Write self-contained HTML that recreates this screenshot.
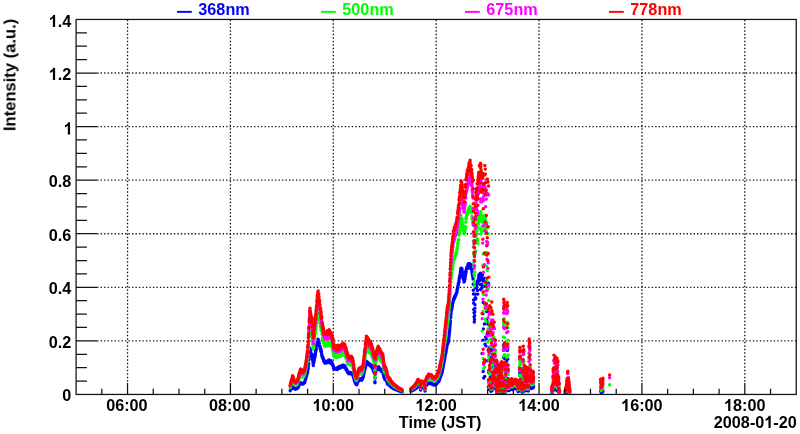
<!DOCTYPE html>
<html><head><meta charset="utf-8"><title>plot</title>
<style>
html,body{margin:0;padding:0;background:#fff;}
body{width:800px;height:434px;overflow:hidden;font-family:"Liberation Sans",sans-serif;}
svg{display:block}
</style></head><body>
<svg width="800" height="434" viewBox="0 0 800 434">
<rect width="800" height="434" fill="#fff"/>
<path d="M97.60 340.88H796.25M97.60 287.31H796.25M97.60 233.74H796.25M97.60 180.16H796.25M97.60 126.59H796.25M97.60 73.02H796.25" stroke="#111" stroke-width="1.3" stroke-dasharray="1.3 2.188" stroke-dashoffset="0.44" fill="none"/>
<path d="M127.54 382.95V19.45M230.42 382.95V19.45M333.30 382.95V19.45M436.17 382.95V19.45M539.05 382.95V19.45M641.93 382.95V19.45M744.81 382.95V19.45" stroke="#111" stroke-width="1.3" stroke-dasharray="1.3 2.2" stroke-dashoffset="2.2" fill="none"/>
<path d="M290.2 390.8h0M290.3 390.5h0M290.5 390.2h0M290.6 390.0h0M290.8 389.7h0M291.0 389.4h0M291.0 389.3h0M291.2 388.9h0M291.4 388.5h0M291.5 388.7h0M291.7 388.1h0M291.7 388.3h0M292.0 387.9h0M292.1 387.5h0M292.2 387.7h0M292.3 387.2h0M292.4 387.2h0M292.6 386.8h0M292.7 387.1h0M292.9 386.8h0M293.0 387.5h0M293.2 387.5h0M293.3 387.4h0M293.5 387.7h0M293.7 388.1h0M293.7 388.1h0M293.9 388.2h0M294.1 388.2h0M294.2 388.5h0M294.3 388.5h0M294.5 388.5h0M294.6 388.6h0M294.8 388.6h0M295.0 388.7h0M295.0 388.9h0M295.2 389.2h0M295.3 389.0h0M295.4 389.0h0M295.6 388.9h0M295.8 389.0h0M295.9 389.1h0M296.0 388.8h0M296.2 388.7h0M296.3 388.7h0M296.4 388.8h0M296.6 388.5h0M296.8 388.5h0M296.9 388.6h0M297.0 388.8h0M297.2 388.5h0M297.4 388.3h0M297.5 388.3h0M297.6 388.1h0M297.8 387.9h0M297.9 387.7h0M298.0 387.3h0M298.2 387.4h0M298.3 386.8h0M298.5 386.7h0M298.6 386.3h0M298.8 386.2h0M298.9 385.5h0M299.0 385.3h0M299.2 385.3h0M299.4 384.8h0M299.4 384.9h0M299.6 384.6h0M299.7 384.2h0M299.9 384.5h0M300.0 384.0h0M300.2 383.7h0M300.4 384.0h0M300.5 382.8h0M300.7 382.8h0M300.7 383.1h0M300.9 383.2h0M301.0 383.0h0M301.2 383.2h0M301.4 383.5h0M301.5 383.7h0M301.6 383.1h0M301.8 383.3h0M301.9 383.8h0M302.0 383.4h0M302.2 383.9h0M302.3 383.5h0M302.5 384.1h0M302.6 383.4h0M302.8 383.9h0M302.9 383.4h0M303.0 383.9h0M303.2 383.9h0M303.4 383.0h0M303.5 383.5h0M303.7 383.3h0M303.8 383.2h0M303.9 382.8h0M304.0 383.2h0M304.2 382.9h0M304.3 382.5h0M304.5 382.4h0M304.7 382.5h0M304.8 381.8h0M305.0 381.3h0M305.1 380.2h0M305.2 380.4h0M305.3 380.2h0M305.4 379.7h0M305.6 379.2h0M305.7 378.8h0M305.9 378.8h0M306.0 377.5h0M306.2 376.8h0M306.3 376.6h0M306.4 376.4h0M306.6 375.9h0M306.8 374.8h0M306.9 374.4h0M307.0 373.7h0M307.2 373.6h0M307.4 373.0h0M307.5 373.0h0M307.6 371.4h0M307.7 370.4h0M307.9 369.5h0M308.1 367.6h0M308.2 368.5h0M308.3 366.1h0M308.5 364.7h0M308.7 363.4h0M308.8 360.1h0M308.9 359.6h0M309.1 357.3h0M309.2 357.0h0M309.4 354.0h0M309.5 354.9h0M309.7 351.9h0M309.7 350.9h0M309.9 348.3h0M310.1 349.5h0M310.2 349.9h0M310.3 350.0h0M310.5 351.4h0M310.7 350.2h0M310.7 351.7h0M310.9 352.4h0M311.1 353.6h0M311.2 353.8h0M311.3 353.9h0M311.5 354.1h0M311.6 354.7h0M311.8 355.1h0M311.9 354.8h0M312.1 356.2h0M312.2 357.1h0M312.3 358.9h0M312.5 357.6h0M312.6 359.2h0M312.8 360.9h0M312.9 362.0h0M313.1 362.5h0M313.2 364.1h0M313.3 365.4h0M313.5 362.9h0M313.6 362.3h0M313.7 362.7h0M313.9 361.3h0M314.1 361.3h0M314.2 360.0h0M314.3 358.9h0M314.5 358.2h0M314.7 356.3h0M314.8 357.3h0M314.9 354.2h0M315.1 355.7h0M315.2 354.5h0M315.4 354.9h0M315.5 350.9h0M315.6 352.7h0M315.7 351.7h0M315.9 350.7h0M316.0 349.7h0M316.2 349.8h0M316.4 349.1h0M316.5 346.3h0M316.6 346.2h0M316.8 345.4h0M316.9 343.9h0M317.1 344.0h0M317.2 342.3h0M317.3 342.5h0M317.5 343.1h0M317.6 343.0h0M317.7 341.9h0M317.9 343.7h0M318.0 339.1h0M318.2 339.7h0M318.3 343.5h0M318.4 340.3h0M318.6 343.2h0M318.8 343.9h0M318.9 343.4h0M319.1 342.9h0M319.2 343.8h0M319.3 343.4h0M319.5 345.9h0M319.7 345.9h0M319.8 346.0h0M319.9 346.4h0M320.1 347.4h0M320.2 348.6h0M320.3 347.3h0M320.5 349.6h0M320.7 349.1h0M320.8 350.9h0M320.9 350.3h0M321.0 349.3h0M321.2 351.6h0M321.4 352.4h0M321.5 353.2h0M321.6 351.7h0M321.7 355.5h0M321.9 355.6h0M322.1 356.1h0M322.2 355.4h0M322.3 357.2h0M322.5 357.0h0M322.6 357.7h0M322.8 357.2h0M322.9 358.7h0M323.1 358.7h0M323.2 358.7h0M323.4 358.8h0M323.5 359.8h0M323.6 360.7h0M323.8 360.6h0M324.0 361.4h0M324.1 361.9h0M324.2 361.6h0M324.4 361.8h0M324.5 360.8h0M324.6 362.4h0M324.8 361.4h0M324.9 362.3h0M325.1 363.2h0M325.2 362.5h0M325.4 361.9h0M325.5 361.7h0M325.6 362.2h0M325.8 362.9h0M325.9 362.0h0M326.0 362.0h0M326.2 362.1h0M326.4 362.7h0M326.5 362.7h0M326.6 361.6h0M326.8 362.1h0M326.9 362.0h0M327.1 362.2h0M327.2 361.1h0M327.3 362.1h0M327.5 362.4h0M327.6 361.8h0M327.8 361.4h0M327.9 361.9h0M328.1 360.7h0M328.2 361.4h0M328.4 360.3h0M328.5 362.2h0M328.7 361.8h0M328.8 361.3h0M328.9 362.4h0M329.0 361.9h0M329.2 361.7h0M329.4 359.9h0M329.5 361.9h0M329.7 362.0h0M329.8 361.7h0M329.9 362.2h0M330.0 362.2h0M330.2 361.6h0M330.3 362.6h0M330.5 360.5h0M330.6 362.2h0M330.8 363.3h0M330.9 362.1h0M331.1 363.5h0M331.2 362.3h0M331.4 363.0h0M331.4 362.1h0M331.6 363.6h0M331.8 363.1h0M331.9 362.0h0M332.0 362.6h0M332.2 363.7h0M332.4 363.7h0M332.5 364.9h0M332.6 364.2h0M332.8 365.7h0M333.0 366.0h0M333.1 365.8h0M333.2 365.7h0M333.4 366.6h0M333.5 367.9h0M333.6 368.1h0M333.8 368.5h0M333.9 367.9h0M334.0 369.3h0M334.2 368.1h0M334.3 368.6h0M334.5 368.6h0M334.6 368.9h0M334.8 369.0h0M334.9 368.8h0M335.1 369.0h0M335.2 369.1h0M335.4 368.9h0M335.5 368.6h0M335.7 369.1h0M335.8 369.2h0M336.0 368.5h0M336.1 369.0h0M336.2 369.1h0M336.3 368.7h0M336.5 369.1h0M336.7 369.0h0M336.8 368.0h0M336.9 369.1h0M337.0 369.2h0M337.2 368.0h0M337.3 369.5h0M337.5 368.2h0M337.6 367.7h0M337.8 368.3h0M337.9 368.5h0M338.1 367.3h0M338.2 368.0h0M338.4 368.3h0M338.5 367.4h0M338.7 367.2h0M338.7 368.6h0M338.9 366.9h0M339.0 368.0h0M339.2 367.5h0M339.4 367.9h0M339.5 367.7h0M339.6 366.4h0M339.8 366.6h0M339.9 366.5h0M340.1 367.3h0M340.2 368.1h0M340.4 366.8h0M340.5 366.5h0M340.6 367.6h0M340.8 366.8h0M340.9 367.2h0M341.1 366.4h0M341.2 366.3h0M341.4 366.1h0M341.4 367.3h0M341.6 366.7h0M341.7 366.3h0M341.9 367.1h0M342.0 365.9h0M342.2 366.6h0M342.3 366.7h0M342.5 365.1h0M342.7 366.2h0M342.7 365.8h0M342.9 365.7h0M343.1 366.9h0M343.2 365.8h0M343.3 365.2h0M343.5 366.3h0M343.6 366.4h0M343.8 366.4h0M343.9 365.9h0M344.0 367.2h0M344.2 365.4h0M344.3 366.5h0M344.5 365.7h0M344.6 366.1h0M344.8 367.5h0M344.9 366.0h0M345.1 366.9h0M345.2 367.1h0M345.4 368.3h0M345.5 367.9h0M345.7 368.1h0M345.8 369.3h0M345.9 368.1h0M346.1 368.5h0M346.2 368.4h0M346.3 368.7h0M346.5 370.1h0M346.6 369.2h0M346.8 370.8h0M346.9 370.3h0M347.1 371.2h0M347.2 370.5h0M347.4 372.0h0M347.5 371.2h0M347.6 371.5h0M347.8 372.6h0M347.9 372.0h0M348.1 372.8h0M348.2 372.8h0M348.3 372.6h0M348.5 373.1h0M348.6 373.7h0M348.7 373.0h0M348.9 373.4h0M349.0 373.0h0M349.2 373.2h0M349.4 372.9h0M349.5 373.5h0M349.6 373.0h0M349.8 372.3h0M349.9 373.0h0M350.0 373.8h0M350.2 373.0h0M350.3 373.3h0M350.5 372.8h0M350.6 373.2h0M350.8 373.8h0M350.9 373.8h0M351.1 373.9h0M351.2 373.0h0M351.4 373.8h0M351.4 373.8h0M351.6 373.5h0M351.8 373.7h0M351.9 373.2h0M352.0 374.0h0M352.2 374.0h0M352.3 373.1h0M352.4 374.2h0M352.7 374.0h0M352.8 374.2h0M352.9 375.6h0M353.1 374.9h0M353.2 376.1h0M353.3 376.7h0M353.5 377.0h0M353.7 378.2h0M353.7 378.2h0M353.9 378.4h0M354.1 379.7h0M354.2 379.8h0M354.3 380.1h0M354.5 380.6h0M354.6 381.0h0M354.7 381.4h0M354.9 382.0h0M355.1 382.4h0M355.2 382.8h0M355.3 383.3h0M355.5 382.8h0M355.6 383.4h0M355.8 383.8h0M355.9 383.7h0M356.1 384.2h0M356.2 384.3h0M356.4 384.4h0M356.5 384.5h0M356.7 384.7h0M356.7 384.1h0M357.0 384.2h0M357.1 383.9h0M357.2 383.0h0M357.3 382.5h0M357.5 382.6h0M357.6 382.5h0M357.8 381.8h0M358.0 381.9h0M358.0 380.8h0M358.2 381.4h0M358.4 380.8h0M358.5 380.1h0M358.6 380.1h0M358.8 380.1h0M358.9 380.2h0M359.0 379.8h0M359.2 379.8h0M359.3 379.3h0M359.5 379.8h0M359.6 379.4h0M359.8 379.5h0M359.9 379.0h0M360.1 379.0h0M360.2 380.0h0M360.3 379.2h0M360.5 379.4h0M360.7 378.8h0M360.7 378.6h0M360.9 379.7h0M361.0 380.0h0M361.2 379.9h0M361.4 379.2h0M361.5 379.7h0M361.6 379.7h0M361.8 380.2h0M361.9 380.1h0M362.1 379.1h0M362.2 379.3h0M362.4 378.7h0M362.5 378.6h0M362.6 378.7h0M362.8 378.2h0M362.9 377.4h0M363.0 377.5h0M363.2 377.2h0M363.4 375.9h0M363.5 375.3h0M363.6 375.1h0M363.8 373.9h0M364.0 373.0h0M364.1 372.6h0M364.2 372.8h0M364.4 371.5h0M364.5 371.0h0M364.7 369.9h0M364.7 369.6h0M365.0 368.8h0M365.1 369.1h0M365.2 368.0h0M365.3 366.4h0M365.5 365.6h0M365.7 366.4h0M365.8 364.4h0M365.9 364.0h0M366.1 363.4h0M366.2 363.4h0M366.3 361.7h0M366.4 361.1h0M366.6 363.3h0M366.8 363.1h0M366.9 362.8h0M367.0 361.6h0M367.2 363.0h0M367.3 362.2h0M367.5 362.9h0M367.6 362.3h0M367.8 362.5h0M367.9 363.2h0M368.1 363.1h0M368.2 362.8h0M368.4 363.3h0M368.5 363.1h0M368.7 364.8h0M368.7 363.6h0M368.9 364.0h0M369.1 363.5h0M369.2 363.9h0M369.3 364.8h0M369.5 364.3h0M369.6 364.5h0M369.8 364.0h0M369.9 365.0h0M370.0 365.4h0M370.2 365.8h0M370.4 364.6h0M370.5 364.9h0M370.7 365.5h0M370.8 364.7h0M370.9 366.5h0M371.0 365.6h0M371.2 366.7h0M371.4 365.9h0M371.5 366.1h0M371.6 365.5h0M371.8 367.2h0M371.9 366.8h0M372.1 367.2h0M372.2 368.0h0M372.3 367.6h0M372.5 368.4h0M372.6 368.8h0M372.8 367.8h0M372.9 368.1h0M373.1 369.2h0M373.2 370.3h0M373.3 370.7h0M373.5 370.5h0M373.6 370.6h0M373.7 370.8h0M373.9 372.2h0M374.0 372.0h0M374.2 370.9h0M374.4 372.3h0M374.4 371.7h0M374.6 373.0h0M374.8 377.4h0M374.9 381.8h0M375.0 382.7h0M375.2 378.1h0M375.3 373.9h0M375.5 372.1h0M375.6 372.2h0M375.8 371.4h0M375.9 370.8h0M376.1 371.2h0M376.2 370.3h0M376.3 370.9h0M376.5 370.4h0M376.6 370.2h0M376.8 369.3h0M376.9 368.9h0M377.1 369.4h0M377.2 368.4h0M377.4 369.8h0M377.5 367.3h0M377.6 368.0h0M377.8 368.6h0M378.0 368.6h0M378.0 367.6h0M378.2 367.2h0M378.3 367.5h0M378.5 367.0h0M378.7 366.6h0M378.7 368.0h0M378.9 367.6h0M379.1 367.4h0M379.2 368.1h0M379.4 368.1h0M379.5 369.0h0M379.6 369.4h0M379.8 368.6h0M379.9 368.7h0M380.1 369.6h0M380.2 369.1h0M380.4 369.3h0M380.5 370.0h0M380.7 370.4h0M380.8 370.6h0M380.9 370.3h0M381.0 370.2h0M381.2 370.7h0M381.3 370.8h0M381.4 371.5h0M381.7 371.4h0M381.7 371.1h0M381.9 371.3h0M382.1 371.8h0M382.2 370.1h0M382.3 370.6h0M382.4 370.9h0M382.6 370.9h0M382.7 371.3h0M382.9 372.0h0M383.1 373.1h0M383.2 373.8h0M383.3 374.5h0M383.5 374.6h0M383.7 376.0h0M383.8 375.9h0M383.9 377.2h0M384.0 377.2h0M384.2 377.3h0M384.4 378.2h0M384.5 378.3h0M384.7 378.7h0M384.8 378.9h0M384.9 379.5h0M385.0 379.4h0M385.2 379.5h0M385.4 379.5h0M385.5 379.4h0M385.7 379.1h0M385.8 379.4h0M385.9 379.9h0M386.1 379.9h0M386.2 379.7h0M386.4 380.2h0M386.5 381.0h0M386.7 381.1h0M386.8 381.2h0M386.9 381.7h0M387.1 382.4h0M387.2 382.7h0M387.3 383.3h0M387.5 384.0h0M387.6 384.1h0M387.8 383.9h0M387.9 384.4h0M388.0 383.8h0M388.2 384.4h0M388.4 384.3h0M388.5 384.4h0M388.6 384.5h0M388.7 385.0h0M389.0 385.1h0M389.1 384.7h0M389.2 385.0h0M389.4 385.0h0M389.5 385.5h0M389.7 385.3h0M389.8 385.4h0M390.0 385.9h0M390.1 385.8h0M390.2 386.0h0M390.3 386.0h0M390.5 386.0h0M390.6 386.5h0M390.7 386.4h0M390.9 386.5h0M391.1 386.9h0M391.2 387.0h0M391.4 387.0h0M391.5 387.2h0M391.7 387.2h0M391.8 387.2h0M391.9 387.4h0M392.1 387.5h0M392.2 387.5h0M392.4 387.7h0M392.5 387.6h0M392.7 387.7h0M392.8 387.9h0M392.9 388.0h0M393.0 388.0h0M393.2 388.4h0M393.3 388.3h0M393.5 388.3h0M393.7 388.5h0M393.8 388.6h0M393.9 388.9h0M394.1 388.7h0M394.2 388.8h0M394.3 388.9h0M394.5 389.0h0M394.6 388.9h0M394.8 388.9h0M395.0 389.0h0M395.0 389.2h0M395.2 389.2h0M395.3 389.3h0M395.5 389.4h0M395.6 389.6h0M395.8 389.4h0M395.9 389.6h0M396.1 389.7h0M396.2 389.6h0M396.4 389.6h0M396.5 389.7h0M396.6 389.8h0M396.8 389.7h0M396.9 390.0h0M397.1 390.1h0M397.2 389.9h0M397.3 390.2h0M397.5 390.2h0M397.7 390.3h0M397.8 390.2h0M397.9 390.5h0M398.0 390.4h0M398.2 390.5h0M398.4 390.6h0M398.5 390.6h0M398.6 390.7h0M398.8 390.8h0M399.0 390.9h0M399.1 390.8h0M399.2 390.8h0M399.3 390.8h0M399.5 390.9h0M399.7 390.9h0M399.7 390.9h0M399.9 391.0h0M400.1 391.2h0M400.2 391.2h0M400.4 391.2h0M400.4 391.1h0M400.7 391.2h0M400.8 391.2h0M400.9 391.4h0M401.0 391.4h0M401.2 391.4h0M401.3 391.4h0M401.5 391.6h0M401.7 391.6h0M401.7 391.7h0M402.0 391.8h0M402.0 391.8h0M402.2 391.9h0M402.3 392.0h0M411.0 391.0h0M411.1 391.0h0M411.2 390.9h0M411.4 390.9h0M411.6 391.0h0M411.7 390.8h0M411.8 390.7h0M412.0 390.6h0M412.1 390.7h0M412.3 390.5h0M412.5 390.4h0M412.5 390.4h0M412.7 390.2h0M412.9 390.2h0M413.0 390.3h0M413.1 390.1h0M413.3 390.1h0M413.5 389.9h0M413.5 389.8h0M413.7 389.9h0M413.8 389.6h0M414.0 389.7h0M414.1 389.7h0M414.3 389.6h0M414.4 389.4h0M414.6 389.2h0M414.8 389.3h0M414.9 389.1h0M415.0 388.9h0M415.2 388.6h0M415.3 388.7h0M415.4 388.6h0M415.6 388.7h0M415.7 388.5h0M415.8 388.2h0M416.0 388.2h0M416.1 388.0h0M416.3 387.8h0M416.5 387.9h0M416.6 387.5h0M416.7 387.3h0M416.9 387.2h0M417.0 387.2h0M417.2 386.7h0M417.3 386.8h0M417.4 386.7h0M417.6 386.5h0M417.7 386.2h0M417.8 385.9h0M418.0 386.0h0M418.2 386.0h0M418.3 386.1h0M418.4 386.0h0M418.6 386.3h0M418.7 386.1h0M418.9 386.5h0M419.0 386.6h0M419.2 386.9h0M419.3 386.9h0M419.5 386.8h0M419.5 386.8h0M419.7 387.2h0M419.8 387.0h0M420.0 387.1h0M420.1 387.4h0M420.3 387.4h0M420.4 388.6h0M420.6 390.0h0M420.7 389.2h0M420.8 387.6h0M421.0 387.0h0M421.1 387.0h0M421.3 386.8h0M421.4 386.9h0M421.6 386.8h0M421.7 387.1h0M421.8 387.1h0M422.0 387.1h0M422.2 387.0h0M422.3 387.5h0M422.4 387.1h0M422.6 387.2h0M422.8 387.4h0M422.9 387.4h0M423.0 387.7h0M423.2 387.7h0M423.3 387.7h0M423.4 387.8h0M423.6 387.9h0M423.7 388.2h0M423.8 388.1h0M424.0 387.7h0M424.1 387.5h0M424.3 387.4h0M424.4 387.3h0M424.6 387.2h0M424.7 387.5h0M424.9 389.3h0M425.0 391.1h0M425.2 389.2h0M425.3 387.1h0M425.4 386.7h0M425.5 386.7h0M425.7 386.1h0M425.9 386.0h0M426.0 386.0h0M426.1 385.7h0M426.3 385.4h0M426.5 384.9h0M426.6 385.1h0M426.7 384.7h0M426.9 384.5h0M427.0 384.8h0M427.1 384.1h0M427.3 384.3h0M427.4 384.2h0M427.6 384.0h0M427.8 383.7h0M427.9 383.9h0M428.0 383.6h0M428.1 383.8h0M428.3 383.4h0M428.5 383.6h0M428.5 383.1h0M428.8 383.0h0M428.9 383.3h0M429.0 383.1h0M429.2 383.1h0M429.3 383.2h0M429.4 383.1h0M429.5 383.1h0M429.7 382.9h0M429.9 383.0h0M430.0 383.1h0M430.1 383.4h0M430.3 383.3h0M430.4 383.4h0M430.5 383.1h0M430.7 383.4h0M430.9 383.8h0M431.0 383.3h0M431.1 383.8h0M431.3 383.1h0M431.4 383.2h0M431.6 383.8h0M431.7 383.6h0M431.9 383.5h0M432.0 383.5h0M432.2 384.1h0M432.3 383.9h0M432.5 384.0h0M432.6 384.4h0M432.7 384.2h0M432.8 384.2h0M433.0 384.1h0M433.2 384.8h0M433.3 384.6h0M433.4 384.4h0M433.5 384.8h0M433.7 384.8h0M433.9 384.4h0M434.0 384.6h0M434.2 384.9h0M434.3 384.4h0M434.4 385.1h0M434.6 384.8h0M434.7 384.9h0M434.8 385.1h0M435.0 385.1h0M435.2 385.1h0M435.3 385.0h0M435.4 384.4h0M435.6 384.3h0M435.7 384.5h0M435.9 383.7h0M436.0 383.8h0M436.2 383.9h0M436.3 384.2h0M436.4 383.7h0M436.6 383.7h0M436.7 383.5h0M436.8 383.8h0M437.0 383.6h0M437.1 383.4h0M437.3 382.9h0M437.4 382.6h0M437.6 382.7h0M437.7 382.6h0M437.8 382.4h0M438.0 381.6h0M438.2 381.8h0M438.3 381.6h0M438.4 381.4h0M438.6 381.0h0M438.8 381.4h0M438.9 380.6h0M439.0 380.1h0M439.1 380.2h0M439.2 379.4h0M439.5 380.0h0M439.6 378.4h0M439.7 378.0h0M439.9 378.1h0M440.0 377.8h0M440.1 377.9h0M440.3 377.3h0M440.4 376.3h0M440.5 376.3h0M440.7 375.6h0M440.8 374.6h0M441.0 375.8h0M441.2 374.4h0M441.3 373.8h0M441.5 374.0h0M441.6 373.2h0M441.7 373.3h0M441.8 372.8h0M442.0 372.8h0M442.2 371.9h0M442.3 371.3h0M442.4 370.5h0M442.6 369.5h0M442.7 369.1h0M442.8 368.3h0M443.0 367.4h0M443.1 366.2h0M443.3 366.3h0M443.5 365.2h0M443.5 364.4h0M443.7 363.7h0M443.9 362.8h0M444.0 361.9h0M444.1 361.9h0M444.3 360.7h0M444.4 360.1h0M444.6 358.9h0M444.7 358.2h0M444.9 358.0h0M445.0 357.2h0M445.1 355.7h0M445.3 355.3h0M445.4 354.7h0M445.6 354.0h0M445.7 352.4h0M445.9 352.4h0M446.0 351.2h0M446.1 351.2h0M446.2 350.3h0M446.4 349.0h0M446.6 348.3h0M446.7 347.9h0M446.8 347.0h0M447.0 346.0h0M447.1 344.7h0M447.2 345.0h0M447.4 344.5h0M447.6 343.7h0M447.7 343.9h0M447.9 343.1h0M448.0 342.9h0M448.2 342.5h0M448.3 342.3h0M448.5 341.7h0M448.5 341.1h0M448.7 339.4h0M448.8 338.2h0M449.0 336.6h0M449.1 335.6h0M449.2 334.2h0M449.4 332.4h0M449.6 331.2h0M449.7 329.5h0M449.9 327.7h0M450.0 325.7h0M450.2 324.0h0M450.3 322.7h0M450.4 320.9h0M450.6 317.8h0M450.8 316.8h0M450.9 314.6h0M451.0 313.6h0M451.1 312.4h0M451.2 311.2h0M451.4 310.5h0M451.5 309.8h0M451.8 308.9h0M451.8 308.5h0M452.0 307.4h0M452.1 306.8h0M452.3 306.6h0M452.4 305.4h0M452.5 304.1h0M452.7 303.6h0M452.8 302.7h0M453.0 302.6h0M453.1 301.4h0M453.3 300.8h0M453.4 299.7h0M453.6 298.9h0M453.7 298.4h0M453.9 298.9h0M454.0 299.5h0M454.2 297.9h0M454.3 298.0h0M454.5 297.6h0M454.5 296.8h0M454.7 297.9h0M454.8 295.9h0M455.0 296.5h0M455.1 296.4h0M455.3 296.3h0M455.4 296.3h0M455.6 294.9h0M455.7 294.6h0M455.9 294.9h0M456.0 293.9h0M456.1 293.7h0M456.3 293.5h0M456.4 293.1h0M456.5 293.0h0M456.7 293.0h0M456.9 292.1h0M457.0 290.8h0M457.1 289.5h0M457.3 289.6h0M457.4 289.0h0M457.6 288.6h0M457.7 287.0h0M457.9 286.1h0M458.0 286.8h0M458.1 285.2h0M458.3 283.6h0M458.4 284.4h0M458.5 283.5h0M458.7 282.5h0M458.9 282.4h0M459.0 280.8h0M459.1 281.7h0M459.2 278.7h0M459.5 278.2h0M459.5 277.1h0M459.7 275.6h0M459.9 276.8h0M460.0 276.0h0M460.1 274.8h0M460.3 272.3h0M460.4 271.9h0M460.6 270.2h0M460.8 270.1h0M460.8 268.9h0M461.0 268.2h0M461.1 269.0h0M461.2 271.0h0M461.5 268.6h0M461.5 270.4h0M461.7 271.7h0M461.8 268.5h0M462.0 269.7h0M462.2 271.5h0M462.3 271.4h0M462.4 274.0h0M462.6 273.1h0M462.7 274.4h0M462.8 275.8h0M463.0 275.2h0M463.1 278.2h0M463.2 277.4h0M463.4 279.4h0M463.6 277.3h0M463.7 278.7h0M463.8 280.0h0M464.0 282.0h0M464.2 278.8h0M464.3 281.2h0M464.4 278.3h0M464.6 281.1h0M464.7 279.2h0M464.9 279.2h0M465.0 278.8h0M465.2 275.8h0M465.3 275.4h0M465.4 276.1h0M465.5 271.9h0M465.7 274.2h0M465.9 270.7h0M466.0 270.7h0M466.2 271.9h0M466.3 269.6h0M466.5 268.4h0M466.5 269.3h0M466.7 268.9h0M466.8 267.5h0M467.0 267.3h0M467.1 268.6h0M467.3 267.7h0M467.4 267.9h0M467.5 268.4h0M467.7 266.0h0M467.8 267.2h0M468.0 266.2h0M468.1 264.4h0M468.3 263.8h0M468.5 267.9h0M468.6 265.9h0M468.7 264.3h0M468.8 266.3h0M469.0 264.1h0M469.1 265.2h0M469.3 265.5h0M469.4 265.7h0M469.6 264.1h0M469.7 264.7h0M469.9 263.8h0M470.0 264.7h0M470.1 265.0h0M470.2 264.1h0M470.4 265.1h0M470.6 264.4h0M470.7 264.7h0M470.8 266.3h0M471.0 264.8h0M471.1 265.7h0M471.3 269.3h0M471.5 269.3h0M471.5 268.5h0M471.7 268.7h0M471.8 270.2h0M472.0 272.9h0M472.1 271.4h0M472.3 272.9h0M472.4 275.4h0M472.5 275.8h0M472.7 275.5h0M472.9 277.0h0M473.0 279.1h0M473.2 284.3h0M473.3 290.3h0M473.5 293.9h0M473.6 299.9h0M473.7 303.3h0M473.8 309.5h0M474.0 312.6h0M474.1 317.0h0M474.3 321.9h0M474.5 319.4h0M474.6 315.5h0M474.8 311.7h0M474.9 308.2h0M475.0 304.6h0M475.2 299.2h0M475.3 297.7h0M475.5 294.2h0M475.5 287.8h0M475.7 286.9h0M475.8 298.4h0M476.0 285.9h0M476.1 287.8h0M476.3 287.6h0M476.4 288.0h0M476.5 286.5h0M476.7 285.9h0M476.9 283.9h0M477.0 284.0h0M477.1 281.4h0M477.3 290.1h0M477.4 290.4h0M477.6 282.6h0M477.7 282.8h0M477.8 294.1h0M478.0 280.8h0M478.1 281.2h0M478.3 278.4h0M478.4 281.4h0M478.6 279.2h0M478.7 275.7h0M478.8 280.5h0M479.0 280.5h0M479.2 277.0h0M479.2 280.5h0M479.4 274.1h0M479.6 276.7h0M479.7 280.0h0M479.8 279.2h0M480.0 280.5h0M480.1 275.3h0M480.3 284.6h0M480.4 273.1h0M480.5 289.5h0M480.7 276.8h0M480.9 276.0h0M481.0 276.1h0M481.1 277.7h0M481.3 278.3h0M481.5 279.5h0M481.6 279.5h0M481.7 288.0h0M481.9 288.2h0M482.0 284.2h0M482.1 353.4h0M482.3 284.5h0M482.5 285.9h0M482.5 274.9h0M482.7 278.4h0M482.9 313.7h0M483.0 340.1h0M483.2 371.5h0M483.2 302.5h0M483.4 328.9h0M483.6 281.3h0M483.7 377.9h0M483.9 285.6h0M484.0 281.1h0M484.1 278.5h0M484.2 286.0h0M484.4 323.9h0M484.6 278.1h0M484.7 376.5h0M484.9 281.5h0M485.0 344.2h0M485.1 304.7h0M485.3 281.9h0M485.5 284.8h0M485.6 285.6h0M485.7 336.9h0M485.8 283.1h0M486.0 346.1h0M486.2 338.9h0M486.3 284.5h0M486.4 304.0h0M486.6 311.6h0M486.7 319.8h0M486.9 283.6h0M487.0 321.1h0M487.2 333.8h0M487.3 311.5h0M487.4 284.2h0M487.5 360.7h0M487.7 310.3h0M487.8 324.1h0M488.0 288.1h0M488.1 350.1h0M488.3 323.7h0M488.4 387.0h0M488.5 283.2h0M488.8 370.4h0M488.9 332.4h0M488.9 372.8h0M489.0 372.2h0M489.2 351.5h0M489.3 389.6h0M489.5 380.1h0M489.7 347.3h0M489.7 381.1h0M489.9 381.2h0M490.1 358.1h0M490.2 386.4h0M490.3 376.9h0M490.4 377.4h0M490.6 362.2h0M490.7 389.2h0M490.9 391.2h0M491.0 348.5h0M491.2 350.8h0M491.4 357.2h0M491.5 367.3h0M491.6 386.0h0M491.8 348.4h0M491.9 349.7h0M492.0 390.8h0M492.2 375.9h0M492.3 363.3h0M492.5 384.7h0M492.6 372.6h0M492.7 388.4h0M492.9 355.0h0M493.1 359.9h0M493.2 356.1h0M493.4 384.0h0M493.5 382.4h0M493.6 386.9h0M493.7 356.7h0M493.9 370.8h0M494.1 377.2h0M494.2 383.4h0M494.4 356.8h0M494.5 385.6h0M494.6 373.2h0M494.7 369.1h0M494.9 366.7h0M495.0 366.5h0M495.2 373.7h0M495.4 386.5h0M495.4 365.5h0M495.6 377.2h0M495.8 380.4h0M495.9 386.4h0M496.0 389.4h0M496.2 382.8h0M496.3 388.1h0M496.5 377.0h0M496.6 387.8h0M496.7 392.7h0M496.9 377.2h0M497.0 390.3h0M497.2 382.7h0M497.3 389.8h0M497.5 380.8h0M497.5 389.4h0M497.7 392.4h0M497.8 378.7h0M498.0 391.0h0M498.1 390.7h0M498.2 385.0h0M498.4 392.5h0M498.5 389.8h0M498.7 382.2h0M498.8 386.5h0M498.9 383.1h0M499.1 387.3h0M499.2 379.2h0M499.3 381.2h0M499.5 389.6h0M499.7 381.1h0M499.8 388.6h0M499.9 386.1h0M500.1 380.5h0M500.2 382.1h0M500.4 384.4h0M500.5 389.2h0M500.6 380.5h0M500.8 377.4h0M500.9 392.2h0M501.1 378.6h0M501.2 390.0h0M501.4 383.6h0M501.5 381.7h0M501.6 380.9h0M501.8 377.1h0M502.0 384.4h0M502.1 390.2h0M502.2 385.6h0M502.4 389.9h0M502.5 388.2h0M502.6 378.7h0M502.8 378.2h0M502.9 392.7h0M503.1 389.0h0M503.3 379.6h0M503.4 369.1h0M503.5 357.2h0M503.6 350.3h0M503.8 344.8h0M503.9 348.6h0M504.1 344.3h0M504.2 347.6h0M504.4 346.7h0M504.5 358.4h0M504.6 367.5h0M504.8 379.0h0M504.9 378.2h0M505.0 387.5h0M505.2 392.3h0M505.4 381.5h0M505.5 389.3h0M505.6 381.9h0M505.8 384.4h0M505.9 390.3h0M506.1 381.4h0M506.3 390.7h0M506.4 390.3h0M506.5 378.4h0M506.7 369.2h0M506.8 360.9h0M506.9 350.0h0M507.1 348.1h0M507.2 350.4h0M507.3 347.6h0M507.5 348.7h0M507.6 349.9h0M507.8 359.1h0M507.9 369.0h0M508.0 378.8h0M508.3 381.4h0M508.3 387.4h0M508.5 390.4h0M508.6 387.1h0M508.8 390.2h0M509.0 390.6h0M509.0 389.0h0M509.1 389.7h0M509.3 388.5h0M509.4 388.5h0M509.6 389.1h0M509.7 389.5h0M509.8 387.5h0M510.0 389.7h0M510.1 387.2h0M510.3 387.4h0M510.4 389.0h0M510.6 387.1h0M510.7 388.5h0M510.8 387.9h0M511.0 387.0h0M511.2 388.4h0M511.3 388.8h0M511.5 388.7h0M511.6 386.8h0M511.7 386.6h0M511.9 388.1h0M512.0 388.0h0M512.1 389.6h0M512.3 389.4h0M512.4 388.0h0M512.5 389.2h0M512.7 388.6h0M512.8 388.6h0M513.0 389.1h0M513.2 389.0h0M513.3 388.4h0M513.4 388.0h0M513.6 388.1h0M513.8 388.0h0M513.8 387.4h0M514.0 388.2h0M514.1 388.4h0M514.3 387.6h0M514.4 387.9h0M514.6 387.2h0M514.7 387.9h0M514.9 388.2h0M515.0 388.3h0M515.1 387.0h0M515.3 387.7h0M515.4 387.8h0M515.6 387.1h0M515.7 388.8h0M515.8 388.1h0M516.0 387.0h0M516.2 388.5h0M516.3 387.1h0M516.5 387.2h0M516.6 388.9h0M516.7 389.0h0M516.8 388.2h0M517.0 387.6h0M517.2 388.9h0M517.3 388.4h0M517.4 387.7h0M517.6 389.2h0M517.7 388.1h0M517.8 388.2h0M518.0 389.3h0M518.0 390.5h0M518.1 391.4h0M518.2 391.4h0M518.4 388.9h0M518.6 390.4h0M518.8 389.3h0M518.8 388.9h0M519.0 390.7h0M519.2 388.9h0M519.2 387.6h0M519.4 381.8h0M519.5 375.8h0M519.7 371.5h0M519.8 373.4h0M520.0 372.3h0M520.2 372.0h0M520.3 373.5h0M520.4 375.3h0M520.5 382.0h0M520.8 386.9h0M520.9 388.7h0M521.0 388.7h0M521.1 390.5h0M521.3 389.4h0M521.4 389.7h0M521.5 391.3h0M521.7 389.0h0M521.9 391.8h0M522.0 389.8h0M522.1 388.9h0M522.2 391.3h0M522.5 391.2h0M522.6 390.9h0M522.6 392.3h0M522.7 383.1h0M522.9 383.4h0M523.1 377.1h0M523.1 373.0h0M523.3 371.4h0M523.4 371.7h0M523.6 373.2h0M523.7 372.2h0M523.9 372.6h0M524.1 379.8h0M524.2 385.3h0M524.3 389.8h0M524.5 382.3h0M524.6 381.1h0M524.7 381.2h0M524.9 391.1h0M525.0 387.2h0M525.2 381.1h0M525.3 386.3h0M525.4 386.7h0M525.6 388.0h0M525.8 381.2h0M525.9 390.1h0M526.0 383.7h0M526.2 382.2h0M526.3 381.3h0M526.5 389.9h0M526.6 385.7h0M526.8 385.0h0M526.9 382.2h0M527.0 385.9h0M527.2 390.4h0M527.3 384.7h0M527.4 387.8h0M527.6 387.1h0M527.8 381.4h0M527.9 382.6h0M528.0 384.7h0M528.2 391.0h0M528.2 390.3h0M528.3 386.6h0M528.5 390.3h0M528.6 386.5h0M528.8 381.9h0M528.9 376.6h0M529.1 372.4h0M529.2 367.9h0M529.3 369.7h0M529.5 369.3h0M529.6 368.7h0M529.8 369.4h0M529.9 372.2h0M530.1 375.3h0M530.2 380.4h0M530.4 385.5h0M530.4 387.8h0M530.6 385.7h0M530.8 383.1h0M530.9 387.0h0M531.0 386.9h0M531.2 387.4h0M531.4 385.1h0M531.5 385.5h0M531.6 385.3h0M531.7 388.5h0M531.9 386.3h0M532.0 385.4h0M532.2 387.6h0M532.3 385.1h0M532.5 385.7h0M532.6 387.9h0M532.8 384.0h0M532.9 383.3h0M533.0 387.8h0M533.2 385.6h0M533.4 383.7h0M533.4 387.3h0M533.6 386.4h0M551.7 392.4h0M551.8 391.6h0M552.0 390.8h0M552.2 393.0h0M552.3 391.8h0M552.4 390.9h0M552.6 390.5h0M552.7 391.4h0M552.9 390.5h0M552.9 386.9h0M553.2 384.1h0M553.3 387.4h0M553.4 385.0h0M553.5 389.0h0M553.7 389.6h0M553.8 378.6h0M554.0 383.4h0M554.1 383.5h0M554.3 389.6h0M554.4 380.4h0M554.6 388.7h0M554.7 388.0h0M554.9 378.8h0M555.0 379.5h0M555.1 389.6h0M555.3 379.4h0M555.4 387.4h0M555.6 388.8h0M555.7 379.1h0M555.9 388.6h0M555.9 381.4h0M556.1 387.0h0M556.3 386.3h0M556.4 383.5h0M556.6 388.8h0M556.7 382.8h0M556.8 383.9h0M557.0 380.3h0M557.1 383.3h0M557.2 390.7h0M557.4 383.6h0M557.6 386.1h0M557.7 381.2h0M557.8 386.8h0M558.0 381.3h0M558.1 387.9h0M558.3 388.5h0M558.5 389.7h0M558.5 387.3h0M558.7 388.1h0M558.8 392.0h0M559.0 389.7h0M559.1 392.9h0M559.3 389.9h0M559.5 393.3h0M559.5 393.2h0M565.2 393.0h0M565.3 392.9h0M565.5 392.6h0M565.6 393.1h0M565.8 391.9h0M565.9 392.7h0M566.1 392.9h0M566.2 392.9h0M566.4 391.1h0M566.5 391.3h0M566.7 390.9h0M566.8 389.6h0M566.9 389.1h0M567.1 389.1h0M567.2 390.2h0M567.3 388.5h0M567.5 385.9h0M567.6 389.6h0M567.8 390.3h0M567.9 385.8h0M568.0 391.3h0M568.2 391.4h0M568.4 388.5h0M568.5 388.6h0M568.7 389.9h0M568.8 389.3h0M568.9 390.1h0M569.1 392.5h0M569.2 391.2h0M569.4 392.5h0M569.5 393.2h0M569.7 391.9h0M569.8 392.9h0M600.6 390.8h0M600.7 391.3h0M600.8 390.9h0M601.1 392.6h0M601.2 392.8h0M601.3 392.3h0M601.4 392.0h0M601.6 392.0h0M601.8 391.9h0M601.9 392.4h0M602.1 392.3h0M602.2 391.0h0M602.4 391.1h0M602.5 391.8h0M602.6 390.9h0M602.7 391.8h0M602.9 390.8h0" stroke="#0000ff" stroke-width="3.45" stroke-linecap="round" fill="none"/>
<path d="M290.2 387.7h0M290.4 387.1h0M290.5 386.8h0M290.6 386.1h0M290.8 385.7h0M290.9 385.2h0M291.1 385.0h0M291.2 384.3h0M291.3 384.1h0M291.5 384.0h0M291.6 383.0h0M291.8 383.2h0M291.9 382.5h0M292.0 382.2h0M292.2 382.4h0M292.3 381.6h0M292.5 381.6h0M292.6 380.7h0M292.8 380.8h0M292.9 380.7h0M293.1 381.6h0M293.2 382.1h0M293.4 381.9h0M293.5 381.9h0M293.6 382.6h0M293.8 382.6h0M293.9 383.2h0M294.1 383.2h0M294.2 383.8h0M294.4 383.7h0M294.5 383.7h0M294.7 384.1h0M294.7 384.6h0M294.9 384.7h0M295.1 384.9h0M295.2 384.9h0M295.4 384.6h0M295.5 384.8h0M295.6 385.0h0M295.8 384.8h0M295.9 384.9h0M296.0 384.7h0M296.2 384.4h0M296.4 384.2h0M296.4 384.7h0M296.6 384.3h0M296.7 384.3h0M296.9 384.4h0M297.1 384.5h0M297.2 383.6h0M297.3 383.6h0M297.5 383.7h0M297.6 383.6h0M297.7 382.9h0M297.9 382.2h0M298.0 382.4h0M298.2 381.8h0M298.4 381.1h0M298.5 380.5h0M298.6 380.3h0M298.7 380.4h0M298.9 379.0h0M299.0 378.9h0M299.2 378.4h0M299.4 378.2h0M299.4 377.5h0M299.6 377.5h0M299.8 376.5h0M299.9 377.2h0M300.0 376.9h0M300.2 376.1h0M300.3 375.6h0M300.4 375.3h0M300.6 374.9h0M300.8 375.3h0M300.9 375.1h0M301.1 375.5h0M301.2 375.3h0M301.3 375.4h0M301.5 376.3h0M301.6 376.0h0M301.8 376.0h0M301.9 376.3h0M302.0 376.1h0M302.2 376.5h0M302.3 377.1h0M302.5 376.9h0M302.6 376.2h0M302.8 376.8h0M302.9 376.6h0M303.0 376.6h0M303.2 376.5h0M303.4 376.5h0M303.5 376.8h0M303.7 375.9h0M303.7 376.0h0M304.0 375.2h0M304.1 376.1h0M304.2 375.8h0M304.4 375.8h0M304.5 375.3h0M304.7 374.8h0M304.7 373.8h0M304.9 374.0h0M305.1 372.9h0M305.2 372.6h0M305.4 371.9h0M305.5 371.3h0M305.6 370.6h0M305.7 369.6h0M305.9 369.7h0M306.1 367.8h0M306.2 368.0h0M306.3 366.4h0M306.5 366.3h0M306.6 364.3h0M306.8 364.8h0M306.9 362.5h0M307.0 363.3h0M307.2 360.8h0M307.4 361.7h0M307.5 359.3h0M307.7 358.2h0M307.8 357.8h0M307.9 355.6h0M308.1 354.6h0M308.2 354.2h0M308.3 349.8h0M308.5 347.7h0M308.6 345.1h0M308.8 341.5h0M309.0 340.5h0M309.0 336.6h0M309.2 333.5h0M309.4 331.9h0M309.5 334.5h0M309.6 328.4h0M309.7 326.1h0M309.9 325.4h0M310.0 325.2h0M310.2 326.0h0M310.3 329.1h0M310.5 327.2h0M310.6 328.7h0M310.8 328.9h0M310.9 331.0h0M311.1 330.5h0M311.2 332.5h0M311.4 332.3h0M311.5 332.9h0M311.7 334.9h0M311.8 334.6h0M311.9 335.9h0M312.1 336.7h0M312.2 337.6h0M312.4 339.3h0M312.5 337.8h0M312.7 341.9h0M312.8 344.2h0M312.9 346.6h0M313.1 346.8h0M313.2 347.0h0M313.3 348.7h0M313.5 346.4h0M313.6 345.4h0M313.8 346.3h0M313.9 343.3h0M314.1 342.2h0M314.2 340.3h0M314.3 339.8h0M314.5 337.1h0M314.7 338.6h0M314.8 336.5h0M314.9 333.3h0M315.1 332.4h0M315.2 333.8h0M315.4 332.7h0M315.4 330.4h0M315.6 329.9h0M315.8 332.2h0M315.9 327.1h0M316.1 328.4h0M316.2 326.1h0M316.4 323.2h0M316.5 322.1h0M316.7 320.0h0M316.7 318.4h0M317.0 318.3h0M317.1 319.9h0M317.2 318.3h0M317.3 314.9h0M317.4 317.4h0M317.6 315.2h0M317.8 313.4h0M317.9 316.4h0M318.0 311.5h0M318.2 313.7h0M318.4 313.7h0M318.5 315.9h0M318.6 315.5h0M318.7 316.5h0M319.0 316.8h0M319.0 317.3h0M319.2 317.6h0M319.3 316.1h0M319.5 319.9h0M319.7 319.2h0M319.8 323.2h0M319.9 323.5h0M320.1 321.6h0M320.2 323.1h0M320.4 325.2h0M320.4 325.8h0M320.7 326.5h0M320.7 326.9h0M320.9 329.7h0M321.1 327.8h0M321.2 330.7h0M321.3 329.7h0M321.5 329.9h0M321.6 331.0h0M321.8 331.2h0M321.9 334.1h0M322.0 334.1h0M322.2 334.8h0M322.3 338.1h0M322.5 337.7h0M322.6 339.4h0M322.7 338.0h0M322.9 340.7h0M323.1 339.0h0M323.2 339.2h0M323.4 341.4h0M323.5 342.3h0M323.6 343.1h0M323.7 342.1h0M323.9 342.8h0M324.1 344.5h0M324.2 343.0h0M324.3 345.4h0M324.5 341.9h0M324.6 343.9h0M324.7 344.0h0M324.9 345.8h0M325.0 346.5h0M325.2 343.2h0M325.3 346.0h0M325.4 344.7h0M325.6 342.9h0M325.8 345.4h0M325.9 344.9h0M326.0 344.9h0M326.2 345.9h0M326.4 345.5h0M326.5 345.2h0M326.6 344.8h0M326.7 345.3h0M326.9 344.6h0M327.1 343.7h0M327.2 343.9h0M327.4 342.4h0M327.5 345.8h0M327.6 342.7h0M327.7 345.9h0M327.9 343.3h0M328.1 342.9h0M328.2 344.6h0M328.3 343.0h0M328.5 343.1h0M328.6 344.5h0M328.8 343.8h0M328.9 344.5h0M329.1 344.6h0M329.2 342.8h0M329.3 343.2h0M329.5 342.1h0M329.6 343.8h0M329.8 343.1h0M329.9 345.3h0M330.0 343.7h0M330.2 344.3h0M330.3 344.3h0M330.5 341.7h0M330.6 342.6h0M330.7 345.5h0M330.9 345.7h0M331.1 346.0h0M331.2 345.2h0M331.3 344.0h0M331.4 344.4h0M331.7 346.3h0M331.8 345.5h0M331.9 346.8h0M332.1 346.5h0M332.2 347.6h0M332.3 346.1h0M332.5 346.5h0M332.6 349.8h0M332.8 349.4h0M332.9 351.6h0M333.1 349.2h0M333.2 350.7h0M333.4 352.2h0M333.5 353.3h0M333.6 354.9h0M333.8 354.2h0M333.9 354.2h0M334.0 356.2h0M334.2 355.7h0M334.3 355.4h0M334.5 355.9h0M334.6 355.0h0M334.8 354.3h0M334.9 356.2h0M335.1 354.8h0M335.2 357.0h0M335.3 356.1h0M335.5 357.3h0M335.6 355.7h0M335.8 356.6h0M335.9 356.2h0M336.1 357.3h0M336.2 355.2h0M336.4 356.0h0M336.5 354.8h0M336.6 356.7h0M336.7 357.1h0M337.0 357.8h0M337.0 356.4h0M337.2 356.8h0M337.3 356.5h0M337.5 355.4h0M337.6 356.4h0M337.7 355.6h0M337.9 355.7h0M338.1 355.3h0M338.2 355.2h0M338.4 355.6h0M338.5 355.0h0M338.6 354.6h0M338.8 356.5h0M338.9 354.8h0M339.0 355.8h0M339.2 356.3h0M339.3 355.5h0M339.5 354.9h0M339.6 354.1h0M339.8 356.3h0M339.9 355.1h0M340.1 355.1h0M340.2 355.4h0M340.4 353.4h0M340.5 356.2h0M340.7 354.0h0M340.8 354.7h0M340.9 354.5h0M341.1 354.7h0M341.2 353.7h0M341.3 353.5h0M341.5 354.1h0M341.6 353.5h0M341.8 353.5h0M341.9 354.0h0M342.0 353.4h0M342.2 354.3h0M342.4 354.4h0M342.5 352.6h0M342.6 353.9h0M342.7 353.5h0M343.0 354.6h0M343.1 355.1h0M343.2 354.3h0M343.3 352.6h0M343.5 354.6h0M343.6 353.1h0M343.8 354.0h0M343.9 354.5h0M344.1 355.3h0M344.2 353.6h0M344.4 353.1h0M344.5 353.3h0M344.6 354.0h0M344.8 355.9h0M344.9 353.5h0M345.0 354.7h0M345.2 356.1h0M345.4 356.7h0M345.5 354.8h0M345.7 356.8h0M345.8 357.9h0M346.0 355.9h0M346.0 356.9h0M346.2 357.7h0M346.3 358.6h0M346.5 358.3h0M346.6 358.8h0M346.8 359.3h0M346.9 360.9h0M347.0 361.6h0M347.2 361.8h0M347.3 361.8h0M347.5 361.2h0M347.6 363.1h0M347.8 362.2h0M347.9 363.0h0M348.0 364.5h0M348.2 363.6h0M348.4 363.1h0M348.5 364.2h0M348.7 364.0h0M348.7 363.3h0M348.9 364.3h0M349.1 363.7h0M349.2 363.7h0M349.4 363.8h0M349.5 364.1h0M349.6 364.5h0M349.8 362.9h0M349.9 364.3h0M350.1 364.5h0M350.2 363.5h0M350.3 365.0h0M350.5 363.6h0M350.7 363.3h0M350.8 363.9h0M350.9 365.0h0M351.1 365.1h0M351.2 364.8h0M351.4 364.2h0M351.5 364.6h0M351.7 365.0h0M351.8 365.0h0M351.9 364.5h0M352.0 364.7h0M352.2 365.4h0M352.3 364.8h0M352.5 365.5h0M352.7 365.2h0M352.7 365.6h0M352.9 368.0h0M353.0 367.8h0M353.2 367.6h0M353.4 369.3h0M353.5 369.1h0M353.6 370.3h0M353.8 371.6h0M353.9 371.6h0M354.1 372.3h0M354.2 373.5h0M354.4 373.9h0M354.5 374.2h0M354.6 375.8h0M354.7 375.8h0M354.9 376.2h0M355.1 377.6h0M355.2 378.3h0M355.4 378.2h0M355.4 377.9h0M355.7 378.6h0M355.7 379.2h0M355.9 379.2h0M356.1 379.1h0M356.2 380.5h0M356.4 380.2h0M356.5 380.2h0M356.6 380.4h0M356.7 379.9h0M356.9 379.8h0M357.0 379.1h0M357.2 379.0h0M357.4 377.7h0M357.5 377.4h0M357.6 377.3h0M357.8 376.3h0M357.9 375.8h0M358.0 375.2h0M358.2 376.0h0M358.3 374.9h0M358.5 374.2h0M358.6 373.4h0M358.7 374.3h0M358.9 373.2h0M359.1 373.7h0M359.2 374.0h0M359.4 373.4h0M359.5 373.4h0M359.6 373.4h0M359.8 373.8h0M359.9 373.1h0M360.0 372.3h0M360.2 373.7h0M360.3 372.5h0M360.5 373.1h0M360.6 372.5h0M360.8 372.4h0M361.0 373.5h0M361.1 373.3h0M361.2 372.6h0M361.3 373.5h0M361.5 373.1h0M361.6 372.8h0M361.8 373.4h0M361.9 374.0h0M362.1 373.4h0M362.2 372.7h0M362.3 372.0h0M362.5 372.4h0M362.6 371.9h0M362.8 371.0h0M363.0 371.0h0M363.1 369.7h0M363.2 370.0h0M363.3 368.7h0M363.5 366.6h0M363.6 366.6h0M363.8 365.5h0M363.9 363.7h0M364.0 363.6h0M364.2 362.7h0M364.4 360.6h0M364.4 360.2h0M364.7 360.1h0M364.7 359.1h0M365.0 357.8h0M365.0 356.2h0M365.2 355.8h0M365.3 354.7h0M365.5 353.9h0M365.6 352.7h0M365.8 350.1h0M365.9 350.6h0M366.0 350.5h0M366.2 349.0h0M366.4 346.9h0M366.4 349.5h0M366.7 348.6h0M366.8 347.6h0M366.9 347.7h0M367.1 348.2h0M367.2 350.6h0M367.3 348.3h0M367.5 348.0h0M367.6 349.1h0M367.8 351.0h0M367.9 349.9h0M368.1 351.4h0M368.2 349.0h0M368.3 349.9h0M368.5 350.8h0M368.6 350.0h0M368.8 352.5h0M368.9 351.4h0M369.1 350.9h0M369.2 351.6h0M369.3 352.8h0M369.5 350.7h0M369.6 351.9h0M369.8 352.5h0M369.9 351.5h0M370.1 352.2h0M370.2 352.5h0M370.3 353.3h0M370.5 353.7h0M370.6 352.7h0M370.8 353.1h0M370.9 353.6h0M371.0 354.5h0M371.2 354.1h0M371.3 353.5h0M371.5 353.8h0M371.6 354.5h0M371.7 354.9h0M372.0 355.8h0M372.0 356.5h0M372.2 355.8h0M372.3 355.9h0M372.5 356.1h0M372.7 357.2h0M372.7 358.6h0M372.9 357.6h0M373.1 357.4h0M373.2 359.5h0M373.4 360.8h0M373.5 361.4h0M373.6 360.6h0M373.8 361.7h0M374.0 362.8h0M374.1 361.5h0M374.2 360.9h0M374.3 361.8h0M374.5 361.0h0M374.7 363.9h0M374.7 370.8h0M374.9 376.5h0M375.0 377.2h0M375.2 370.5h0M375.4 364.7h0M375.5 362.3h0M375.6 362.1h0M375.8 361.9h0M376.0 361.6h0M376.0 361.3h0M376.2 360.5h0M376.4 359.0h0M376.5 361.0h0M376.6 360.0h0M376.8 359.7h0M376.9 358.7h0M377.1 358.9h0M377.2 356.9h0M377.3 359.3h0M377.5 356.2h0M377.7 357.4h0M377.8 357.4h0M377.9 357.3h0M378.1 356.1h0M378.2 354.8h0M378.4 356.5h0M378.5 355.8h0M378.6 355.3h0M378.8 355.0h0M378.9 356.2h0M379.1 356.7h0M379.2 357.5h0M379.3 358.7h0M379.5 358.0h0M379.7 357.3h0M379.8 358.2h0M380.0 358.0h0M380.0 357.6h0M380.2 358.7h0M380.3 359.9h0M380.5 359.6h0M380.6 359.4h0M380.8 360.2h0M380.9 360.3h0M381.1 361.2h0M381.2 360.5h0M381.3 359.5h0M381.5 361.9h0M381.7 362.0h0M381.8 359.9h0M381.9 361.4h0M382.1 361.4h0M382.2 359.6h0M382.4 361.8h0M382.4 361.0h0M382.6 361.9h0M382.8 360.6h0M382.9 362.0h0M383.1 363.1h0M383.2 365.4h0M383.3 366.4h0M383.4 367.4h0M383.7 368.1h0M383.8 368.4h0M383.9 369.7h0M384.0 371.0h0M384.2 370.4h0M384.3 372.0h0M384.5 372.2h0M384.7 372.0h0M384.8 372.1h0M384.9 372.8h0M385.1 372.6h0M385.2 372.2h0M385.3 372.3h0M385.5 372.5h0M385.6 373.3h0M385.8 372.9h0M385.9 372.7h0M386.1 372.9h0M386.2 373.7h0M386.3 373.9h0M386.4 375.0h0M386.6 374.8h0M386.8 375.4h0M386.9 376.4h0M387.0 376.8h0M387.2 377.7h0M387.3 378.6h0M387.5 379.4h0M387.7 379.8h0M387.8 379.0h0M387.9 379.6h0M388.1 379.9h0M388.2 380.0h0M388.3 380.0h0M388.5 380.1h0M388.6 380.8h0M388.8 380.6h0M388.9 380.7h0M389.0 381.2h0M389.2 381.2h0M389.3 381.4h0M389.5 381.3h0M389.7 381.5h0M389.8 381.9h0M389.9 382.0h0M390.1 381.9h0M390.2 382.2h0M390.3 382.2h0M390.5 382.4h0M390.6 383.3h0M390.7 383.5h0M390.9 383.3h0M391.0 383.2h0M391.2 383.8h0M391.3 383.7h0M391.4 383.9h0M391.6 384.2h0M391.7 384.2h0M391.9 384.0h0M392.1 384.6h0M392.2 384.6h0M392.4 384.7h0M392.4 384.9h0M392.6 384.8h0M392.7 384.8h0M392.9 385.6h0M393.0 385.5h0M393.2 385.5h0M393.3 385.8h0M393.5 386.1h0M393.7 385.8h0M393.8 386.3h0M393.9 386.2h0M394.1 386.3h0M394.2 386.5h0M394.3 386.4h0M394.5 386.9h0M394.7 386.7h0M394.7 386.8h0M394.9 386.8h0M395.1 386.9h0M395.2 386.7h0M395.3 387.2h0M395.5 387.3h0M395.6 387.5h0M395.8 387.4h0M395.9 387.3h0M396.0 387.6h0M396.2 387.7h0M396.3 387.5h0M396.5 387.8h0M396.6 387.8h0M396.7 387.8h0M397.0 388.0h0M397.0 388.3h0M397.2 388.3h0M397.4 388.1h0M397.5 388.6h0M397.6 388.6h0M397.7 388.7h0M397.9 388.5h0M398.1 388.8h0M398.2 388.9h0M398.3 388.9h0M398.5 388.9h0M398.6 389.1h0M398.7 389.0h0M398.9 389.2h0M399.1 389.3h0M399.2 389.2h0M399.3 389.4h0M399.5 389.5h0M399.6 389.6h0M399.7 389.6h0M399.9 389.6h0M400.0 389.7h0M400.2 389.7h0M400.4 389.8h0M400.5 389.8h0M400.6 389.9h0M400.7 389.8h0M400.9 390.1h0M401.1 390.1h0M401.2 390.0h0M401.3 390.1h0M401.5 390.3h0M401.6 390.3h0M401.8 390.5h0M401.9 390.7h0M402.1 390.8h0M402.2 390.7h0M402.4 390.9h0M411.0 389.6h0M411.1 389.4h0M411.2 389.5h0M411.4 389.4h0M411.6 389.3h0M411.7 389.4h0M411.9 389.3h0M412.0 389.1h0M412.2 389.0h0M412.3 389.0h0M412.4 388.5h0M412.6 388.8h0M412.7 388.4h0M412.9 388.2h0M413.0 388.3h0M413.1 388.2h0M413.3 388.3h0M413.4 388.0h0M413.6 388.1h0M413.7 387.9h0M413.9 387.7h0M414.0 387.8h0M414.2 387.3h0M414.3 387.2h0M414.5 387.3h0M414.5 386.9h0M414.7 386.9h0M414.9 387.0h0M415.0 386.4h0M415.1 386.2h0M415.3 386.4h0M415.4 386.0h0M415.5 386.2h0M415.8 385.8h0M415.8 385.8h0M416.0 385.4h0M416.1 385.2h0M416.3 385.4h0M416.5 385.0h0M416.5 384.8h0M416.7 384.4h0M416.9 384.0h0M417.0 384.2h0M417.1 383.3h0M417.3 383.1h0M417.4 382.9h0M417.5 383.1h0M417.7 382.9h0M417.8 382.7h0M418.0 382.0h0M418.1 382.2h0M418.3 381.9h0M418.4 382.6h0M418.5 382.6h0M418.7 383.0h0M418.9 382.8h0M419.0 383.1h0M419.2 383.7h0M419.3 383.5h0M419.5 383.5h0M419.5 383.7h0M419.7 383.7h0M419.9 384.1h0M420.0 384.3h0M420.2 384.0h0M420.2 384.3h0M420.4 386.0h0M420.6 388.3h0M420.7 386.9h0M420.9 384.6h0M421.0 384.1h0M421.1 384.0h0M421.3 383.5h0M421.5 383.8h0M421.6 383.6h0M421.7 383.7h0M421.9 384.0h0M422.0 383.4h0M422.1 383.6h0M422.3 384.3h0M422.5 384.0h0M422.6 384.2h0M422.7 384.5h0M422.9 384.5h0M423.0 384.6h0M423.1 384.8h0M423.3 384.6h0M423.4 384.9h0M423.6 385.1h0M423.7 385.5h0M423.9 385.1h0M424.0 385.1h0M424.1 384.8h0M424.3 384.4h0M424.4 384.4h0M424.6 384.3h0M424.7 384.4h0M424.8 387.2h0M425.0 389.6h0M425.1 386.7h0M425.2 384.1h0M425.4 383.0h0M425.5 383.3h0M425.7 382.8h0M425.8 382.4h0M426.0 382.2h0M426.1 381.9h0M426.3 381.6h0M426.4 381.2h0M426.6 380.5h0M426.7 380.2h0M426.9 380.8h0M427.0 380.1h0M427.2 380.3h0M427.3 379.7h0M427.4 379.7h0M427.6 379.7h0M427.8 379.6h0M427.8 379.5h0M428.0 378.6h0M428.2 379.4h0M428.3 378.9h0M428.4 379.3h0M428.5 378.4h0M428.7 377.8h0M428.8 378.4h0M429.0 377.7h0M429.2 377.9h0M429.3 378.7h0M429.4 378.8h0M429.6 378.3h0M429.7 378.3h0M429.9 378.9h0M430.0 378.5h0M430.1 379.1h0M430.3 377.9h0M430.5 378.5h0M430.6 378.5h0M430.7 378.8h0M430.8 378.5h0M431.0 378.6h0M431.1 379.3h0M431.3 378.7h0M431.4 379.0h0M431.6 378.9h0M431.7 378.9h0M431.9 379.5h0M432.0 379.0h0M432.1 379.2h0M432.3 379.0h0M432.5 379.3h0M432.6 380.2h0M432.7 379.9h0M432.8 380.1h0M433.0 379.7h0M433.1 380.2h0M433.3 380.1h0M433.4 380.5h0M433.6 380.4h0M433.7 379.9h0M433.9 380.8h0M434.0 380.6h0M434.2 380.5h0M434.3 380.2h0M434.4 380.5h0M434.6 380.8h0M434.7 380.2h0M434.9 380.7h0M435.0 381.3h0M435.1 380.9h0M435.3 380.2h0M435.4 380.2h0M435.6 379.6h0M435.7 380.2h0M435.9 379.2h0M436.0 379.9h0M436.2 378.8h0M436.3 379.3h0M436.4 379.0h0M436.6 378.7h0M436.8 378.9h0M436.8 378.3h0M437.0 378.3h0M437.2 378.8h0M437.3 378.4h0M437.5 377.9h0M437.5 378.1h0M437.7 377.8h0M437.9 377.2h0M438.0 375.9h0M438.1 376.3h0M438.3 376.1h0M438.4 375.2h0M438.5 375.9h0M438.7 375.4h0M438.9 375.3h0M439.0 374.7h0M439.1 374.0h0M439.2 373.9h0M439.4 372.7h0M439.5 371.6h0M439.7 371.3h0M439.9 371.5h0M440.0 370.5h0M440.1 370.1h0M440.3 370.3h0M440.4 368.5h0M440.6 368.2h0M440.8 368.1h0M440.8 367.3h0M441.0 367.5h0M441.2 366.3h0M441.3 365.9h0M441.4 365.4h0M441.6 364.9h0M441.7 363.4h0M441.8 363.4h0M442.0 363.1h0M442.1 362.4h0M442.3 361.4h0M442.5 360.4h0M442.5 359.2h0M442.7 358.3h0M442.9 357.4h0M443.0 355.1h0M443.1 354.0h0M443.2 353.6h0M443.4 353.3h0M443.6 352.6h0M443.7 350.6h0M443.8 349.0h0M444.0 348.0h0M444.1 348.3h0M444.3 346.3h0M444.4 345.1h0M444.6 344.0h0M444.7 343.4h0M444.9 342.7h0M445.0 340.7h0M445.1 339.6h0M445.2 339.0h0M445.4 337.3h0M445.5 337.4h0M445.7 335.0h0M445.8 334.4h0M446.0 332.9h0M446.1 332.6h0M446.3 331.4h0M446.4 329.0h0M446.6 328.4h0M446.8 328.0h0M446.9 326.6h0M447.0 324.9h0M447.2 323.7h0M447.2 323.5h0M447.5 322.8h0M447.6 322.0h0M447.8 322.3h0M447.9 321.5h0M448.0 320.9h0M448.2 320.1h0M448.3 319.7h0M448.4 318.8h0M448.5 318.4h0M448.7 315.9h0M448.8 313.6h0M449.0 312.6h0M449.1 310.5h0M449.2 307.8h0M449.4 306.5h0M449.6 304.6h0M449.7 302.4h0M449.9 299.5h0M450.0 296.3h0M450.2 294.2h0M450.3 291.5h0M450.4 288.6h0M450.6 286.1h0M450.7 283.1h0M450.8 281.8h0M451.0 278.7h0M451.1 277.5h0M451.3 276.5h0M451.4 275.2h0M451.6 274.5h0M451.7 273.8h0M451.8 272.5h0M452.0 270.4h0M452.2 270.0h0M452.3 269.9h0M452.5 269.5h0M452.6 267.2h0M452.7 266.2h0M452.9 265.3h0M453.0 264.1h0M453.1 263.3h0M453.3 262.1h0M453.4 260.5h0M453.6 259.2h0M453.7 259.7h0M453.8 260.1h0M454.0 259.2h0M454.1 259.6h0M454.3 257.6h0M454.4 258.1h0M454.6 257.7h0M454.7 258.4h0M454.8 256.4h0M455.0 257.6h0M455.2 256.9h0M455.3 255.8h0M455.4 255.5h0M455.6 254.8h0M455.7 253.9h0M455.9 255.1h0M456.0 253.0h0M456.1 254.3h0M456.3 253.6h0M456.4 252.3h0M456.6 252.3h0M456.7 250.6h0M456.9 250.0h0M457.0 249.3h0M457.1 247.7h0M457.3 249.1h0M457.5 246.4h0M457.6 246.4h0M457.7 243.7h0M457.8 244.3h0M458.0 242.5h0M458.1 239.7h0M458.2 240.9h0M458.4 239.6h0M458.6 240.1h0M458.8 239.7h0M458.9 235.3h0M459.0 233.5h0M459.1 234.7h0M459.3 231.9h0M459.4 233.1h0M459.6 231.9h0M459.8 230.0h0M459.9 227.6h0M460.0 227.3h0M460.1 224.5h0M460.2 225.3h0M460.4 221.9h0M460.6 223.0h0M460.7 223.6h0M460.9 220.1h0M461.0 215.2h0M461.2 219.7h0M461.3 218.3h0M461.4 219.2h0M461.6 218.4h0M461.7 220.0h0M461.8 219.8h0M462.0 223.6h0M462.2 219.4h0M462.3 221.6h0M462.5 224.9h0M462.5 224.7h0M462.7 225.1h0M462.8 226.9h0M463.0 228.9h0M463.2 230.8h0M463.3 231.1h0M463.5 231.2h0M463.6 230.9h0M463.7 228.8h0M463.9 232.9h0M464.0 233.4h0M464.1 233.3h0M464.3 232.7h0M464.4 232.1h0M464.6 230.9h0M464.7 233.1h0M464.9 231.2h0M465.0 228.5h0M465.1 229.3h0M465.3 226.3h0M465.4 226.5h0M465.6 222.1h0M465.7 222.3h0M465.9 219.1h0M466.0 217.9h0M466.1 219.1h0M466.3 217.0h0M466.4 216.2h0M466.6 218.3h0M466.7 214.0h0M466.9 212.4h0M467.0 214.8h0M467.1 213.5h0M467.3 212.8h0M467.4 214.1h0M467.6 212.6h0M467.7 212.9h0M467.9 212.1h0M468.0 210.0h0M468.1 210.3h0M468.3 211.6h0M468.4 212.0h0M468.6 212.0h0M468.8 211.4h0M468.9 208.4h0M469.0 208.5h0M469.1 207.2h0M469.3 208.3h0M469.4 207.0h0M469.6 208.5h0M469.7 208.8h0M469.8 207.7h0M470.0 207.9h0M470.1 206.1h0M470.3 207.6h0M470.4 207.4h0M470.6 208.1h0M470.8 210.6h0M470.8 209.4h0M471.0 207.6h0M471.2 209.9h0M471.3 210.5h0M471.4 211.5h0M471.6 212.4h0M471.7 212.6h0M471.9 216.2h0M472.0 218.4h0M472.1 218.4h0M472.3 219.1h0M472.4 218.0h0M472.5 222.6h0M472.7 220.1h0M472.8 222.1h0M473.0 225.2h0M473.1 232.7h0M473.3 241.2h0M473.4 246.8h0M473.6 253.8h0M473.7 262.9h0M473.9 266.8h0M474.0 273.7h0M474.2 281.7h0M474.3 286.1h0M474.4 282.7h0M474.5 275.8h0M474.7 272.0h0M474.8 266.0h0M475.0 261.6h0M475.1 253.8h0M475.3 250.8h0M475.5 243.0h0M475.6 235.4h0M475.7 233.1h0M475.8 251.1h0M476.0 232.5h0M476.1 234.8h0M476.3 234.9h0M476.4 234.3h0M476.5 233.1h0M476.7 234.0h0M476.9 228.7h0M477.0 230.8h0M477.1 223.5h0M477.3 238.6h0M477.4 240.4h0M477.6 226.5h0M477.7 226.4h0M477.9 243.3h0M478.0 221.9h0M478.2 224.5h0M478.3 219.4h0M478.5 223.4h0M478.6 220.5h0M478.8 216.5h0M478.8 219.6h0M479.0 218.1h0M479.2 218.7h0M479.3 221.4h0M479.4 213.7h0M479.5 213.7h0M479.7 219.8h0M479.9 219.3h0M480.0 219.4h0M480.2 214.1h0M480.3 229.0h0M480.4 212.1h0M480.6 234.1h0M480.7 211.5h0M480.9 212.3h0M481.0 215.2h0M481.2 214.9h0M481.3 218.1h0M481.4 219.3h0M481.6 220.0h0M481.7 231.2h0M481.9 232.1h0M482.0 226.5h0M482.2 331.1h0M482.3 221.2h0M482.5 222.2h0M482.6 218.3h0M482.7 222.3h0M482.8 265.4h0M483.0 311.5h0M483.2 358.7h0M483.3 254.1h0M483.5 294.4h0M483.6 227.7h0M483.7 368.4h0M483.8 230.2h0M484.0 223.6h0M484.1 215.6h0M484.3 219.2h0M484.4 283.7h0M484.6 224.3h0M484.7 367.3h0M484.8 216.4h0M485.0 319.1h0M485.2 254.2h0M485.3 217.4h0M485.4 220.1h0M485.6 228.8h0M485.8 305.1h0M485.9 226.7h0M486.0 321.2h0M486.1 309.4h0M486.3 231.3h0M486.4 252.4h0M486.6 266.1h0M486.7 278.8h0M486.8 222.4h0M487.0 280.9h0M487.2 306.0h0M487.2 270.4h0M487.4 227.8h0M487.6 342.1h0M487.7 268.5h0M487.9 288.0h0M488.0 233.6h0M488.1 329.0h0M488.3 285.1h0M488.4 383.3h0M488.6 226.8h0M488.7 357.1h0M488.8 300.5h0M488.9 360.2h0M489.1 359.4h0M489.2 327.5h0M489.4 387.3h0M489.5 371.7h0M489.6 323.1h0M489.8 374.2h0M489.9 374.1h0M490.1 339.2h0M490.2 382.2h0M490.4 366.7h0M490.4 367.8h0M490.6 346.6h0M490.8 386.4h0M490.9 389.5h0M491.0 324.8h0M491.2 328.5h0M491.3 339.8h0M491.5 353.7h0M491.6 381.9h0M491.7 323.1h0M491.9 328.0h0M492.1 389.1h0M492.2 364.6h0M492.3 347.0h0M492.5 379.2h0M492.6 361.6h0M492.7 385.5h0M492.9 332.7h0M493.0 340.3h0M493.2 338.1h0M493.3 378.6h0M493.5 376.1h0M493.6 382.9h0M493.7 336.8h0M493.9 356.6h0M494.1 368.0h0M494.2 378.1h0M494.3 338.5h0M494.5 380.8h0M494.6 362.8h0M494.7 355.9h0M494.9 352.8h0M495.1 353.0h0M495.2 361.7h0M495.3 382.8h0M495.5 350.3h0M495.6 369.0h0M495.7 373.8h0M495.9 382.1h0M496.1 386.8h0M496.1 376.2h0M496.3 385.0h0M496.4 367.6h0M496.6 384.3h0M496.8 391.8h0M496.9 367.9h0M497.1 388.0h0M497.2 376.1h0M497.4 387.5h0M497.5 373.7h0M497.5 386.6h0M497.7 391.4h0M497.8 370.9h0M497.9 388.9h0M498.1 388.8h0M498.2 380.5h0M498.3 391.4h0M498.5 387.4h0M498.7 375.2h0M498.8 382.3h0M498.9 377.2h0M499.1 383.6h0M499.2 370.3h0M499.4 374.2h0M499.5 387.2h0M499.7 374.8h0M499.8 385.7h0M499.9 381.9h0M500.1 374.4h0M500.2 375.4h0M500.3 378.8h0M500.5 386.6h0M500.6 372.4h0M500.8 369.8h0M501.0 391.1h0M501.1 369.7h0M501.3 387.8h0M501.3 378.4h0M501.5 375.4h0M501.7 373.3h0M501.8 368.7h0M502.0 379.4h0M502.0 388.0h0M502.2 381.2h0M502.3 387.4h0M502.5 385.1h0M502.6 371.0h0M502.8 369.2h0M503.0 391.6h0M503.1 386.1h0M503.2 371.4h0M503.4 356.1h0M503.5 336.9h0M503.6 325.2h0M503.8 322.7h0M504.0 323.1h0M504.1 318.7h0M504.2 323.1h0M504.4 323.7h0M504.5 337.6h0M504.6 354.7h0M504.8 371.4h0M504.9 370.5h0M505.1 383.6h0M505.2 391.3h0M505.4 373.9h0M505.5 386.7h0M505.7 375.7h0M505.8 378.6h0M505.9 387.8h0M506.1 374.0h0M506.3 388.6h0M506.4 388.5h0M506.5 369.7h0M506.7 357.2h0M506.7 344.0h0M506.9 326.8h0M507.1 326.8h0M507.2 325.4h0M507.3 322.2h0M507.5 322.8h0M507.7 328.1h0M507.8 340.1h0M508.0 354.9h0M508.1 371.3h0M508.2 374.5h0M508.4 383.3h0M508.5 388.3h0M508.6 383.2h0M508.7 387.8h0M508.9 388.6h0M509.0 386.3h0M509.1 387.4h0M509.3 385.5h0M509.4 385.5h0M509.6 386.0h0M509.7 387.1h0M509.9 383.4h0M510.0 387.0h0M510.1 384.0h0M510.3 383.5h0M510.5 386.0h0M510.6 382.9h0M510.7 385.5h0M510.8 384.6h0M511.0 383.2h0M511.1 385.6h0M511.2 385.9h0M511.4 385.4h0M511.6 382.6h0M511.7 382.9h0M511.9 385.0h0M512.0 384.6h0M512.1 387.1h0M512.3 386.8h0M512.4 384.6h0M512.5 386.5h0M512.8 385.1h0M512.9 385.6h0M513.0 386.2h0M513.2 386.1h0M513.3 385.2h0M513.4 384.6h0M513.6 385.0h0M513.7 384.9h0M513.9 383.9h0M514.0 385.1h0M514.2 384.9h0M514.3 384.3h0M514.5 384.0h0M514.6 383.3h0M514.7 384.5h0M514.9 384.8h0M515.0 385.0h0M515.1 382.9h0M515.3 384.1h0M515.5 384.3h0M515.6 382.9h0M515.7 385.9h0M515.9 384.8h0M516.0 383.5h0M516.1 385.4h0M516.3 383.5h0M516.4 383.5h0M516.6 385.9h0M516.7 386.2h0M516.9 385.1h0M517.0 383.9h0M517.1 386.0h0M517.3 384.9h0M517.4 383.7h0M517.6 386.6h0M517.7 385.1h0M517.9 384.9h0M518.0 386.7h0M518.0 388.3h0M518.2 389.8h0M518.3 389.8h0M518.4 385.7h0M518.6 388.2h0M518.7 386.6h0M518.9 386.1h0M519.0 388.6h0M519.1 386.0h0M519.3 383.8h0M519.4 375.2h0M519.6 365.8h0M519.7 358.9h0M519.8 362.7h0M520.0 359.5h0M520.1 360.6h0M520.3 362.3h0M520.5 364.6h0M520.5 375.2h0M520.7 383.0h0M520.9 386.1h0M521.0 385.7h0M521.2 388.5h0M521.3 386.9h0M521.5 387.4h0M521.6 389.6h0M521.7 386.1h0M521.8 390.5h0M522.0 387.6h0M522.1 385.9h0M522.3 389.6h0M522.4 389.5h0M522.5 389.2h0M522.6 391.1h0M522.7 376.7h0M522.9 377.8h0M523.1 368.5h0M523.2 362.5h0M523.3 359.8h0M523.5 361.6h0M523.6 362.1h0M523.8 361.2h0M523.9 361.8h0M524.0 372.1h0M524.1 380.7h0M524.3 387.6h0M524.5 375.5h0M524.6 374.3h0M524.7 374.0h0M524.9 389.3h0M525.0 383.7h0M525.2 373.5h0M525.3 381.7h0M525.5 382.6h0M525.6 384.9h0M525.8 373.9h0M525.8 387.9h0M526.0 378.8h0M526.2 375.4h0M526.3 374.1h0M526.5 387.3h0M526.6 381.1h0M526.7 379.8h0M526.9 375.0h0M527.0 381.3h0M527.2 388.2h0M527.4 379.3h0M527.5 384.4h0M527.6 383.6h0M527.8 374.6h0M527.8 376.3h0M528.0 379.9h0M528.2 388.9h0M528.2 387.9h0M528.3 382.5h0M528.5 388.0h0M528.6 382.6h0M528.7 375.6h0M528.9 367.3h0M529.1 359.0h0M529.2 354.3h0M529.4 356.4h0M529.5 356.1h0M529.6 355.0h0M529.8 356.1h0M529.9 360.0h0M530.1 366.0h0M530.2 373.4h0M530.4 380.5h0M530.5 384.4h0M530.6 380.6h0M530.8 377.4h0M530.9 382.8h0M531.0 382.9h0M531.2 383.4h0M531.3 379.4h0M531.4 380.4h0M531.6 379.7h0M531.8 385.0h0M531.9 382.1h0M532.0 380.8h0M532.2 384.1h0M532.3 380.3h0M532.4 380.8h0M532.6 384.4h0M532.7 378.2h0M532.9 377.7h0M533.0 384.6h0M533.2 381.2h0M533.3 377.8h0M533.5 383.4h0M533.6 381.8h0M551.7 391.1h0M551.9 390.0h0M552.0 388.4h0M552.1 391.9h0M552.2 390.0h0M552.4 388.5h0M552.5 388.1h0M552.7 389.4h0M552.8 388.1h0M553.0 381.7h0M553.1 376.9h0M553.3 382.7h0M553.4 378.6h0M553.6 385.6h0M553.7 386.4h0M553.8 368.0h0M553.9 375.9h0M554.2 377.3h0M554.3 386.4h0M554.4 371.0h0M554.6 385.1h0M554.7 383.3h0M554.9 368.8h0M555.0 368.3h0M555.1 386.4h0M555.2 369.2h0M555.5 382.7h0M555.6 385.5h0M555.7 369.1h0M555.8 384.4h0M556.0 373.3h0M556.1 382.0h0M556.3 380.5h0M556.4 376.9h0M556.6 385.3h0M556.7 375.1h0M556.8 376.4h0M557.0 370.0h0M557.1 375.7h0M557.3 387.9h0M557.4 375.9h0M557.5 380.7h0M557.7 372.2h0M557.9 381.6h0M558.0 371.7h0M558.1 383.0h0M558.3 384.9h0M558.4 386.1h0M558.5 382.4h0M558.7 383.9h0M558.9 390.2h0M559.0 386.6h0M559.2 391.9h0M559.3 386.7h0M559.4 392.5h0M559.5 392.3h0M565.2 391.9h0M565.4 391.7h0M565.5 391.3h0M565.7 392.0h0M565.8 390.0h0M565.9 391.3h0M566.1 391.8h0M566.2 391.6h0M566.3 388.2h0M566.5 389.0h0M566.6 388.2h0M566.8 386.0h0M566.9 385.2h0M567.0 384.6h0M567.2 386.6h0M567.4 384.1h0M567.5 379.7h0M567.6 385.7h0M567.7 386.9h0M567.9 379.5h0M568.1 388.8h0M568.2 388.8h0M568.4 383.4h0M568.5 384.7h0M568.6 386.7h0M568.7 385.3h0M568.9 387.0h0M569.1 390.9h0M569.2 388.5h0M569.3 391.0h0M569.5 392.4h0M569.6 390.0h0M569.8 391.7h0M600.6 386.6h0M600.8 387.6h0M600.9 386.4h0M601.1 390.6h0M601.2 390.6h0M601.3 389.9h0M601.5 389.3h0M601.6 389.2h0M601.7 389.1h0M601.8 389.9h0M602.0 389.8h0M602.2 386.8h0M602.3 387.1h0M602.4 388.4h0M602.6 386.4h0M602.7 388.8h0M602.9 386.1h0M609.6 384.7h0" stroke="#00ff00" stroke-width="3.45" stroke-linecap="round" fill="none"/>
<path d="M290.2 386.0h0M290.3 385.6h0M290.5 384.9h0M290.6 384.1h0M290.8 383.8h0M290.9 382.9h0M291.1 382.8h0M291.2 382.1h0M291.3 381.4h0M291.5 381.4h0M291.6 380.7h0M291.7 380.3h0M291.9 379.8h0M292.1 379.6h0M292.2 379.5h0M292.3 378.5h0M292.5 378.5h0M292.7 377.5h0M292.8 377.7h0M292.9 378.2h0M293.1 378.9h0M293.2 378.9h0M293.4 378.9h0M293.5 379.6h0M293.7 379.9h0M293.8 380.3h0M293.9 380.5h0M294.1 380.8h0M294.2 380.9h0M294.3 381.7h0M294.5 381.6h0M294.7 381.7h0M294.7 382.2h0M294.9 382.2h0M295.0 382.6h0M295.2 382.9h0M295.3 382.4h0M295.5 382.4h0M295.6 382.7h0M295.8 382.5h0M295.9 382.9h0M296.0 382.7h0M296.2 382.6h0M296.4 382.3h0M296.5 382.1h0M296.6 382.2h0M296.8 381.9h0M296.9 382.5h0M297.1 382.2h0M297.2 381.5h0M297.3 381.6h0M297.4 381.8h0M297.6 381.3h0M297.7 380.4h0M297.9 380.2h0M298.0 379.4h0M298.2 379.6h0M298.3 379.3h0M298.4 378.0h0M298.7 378.1h0M298.8 377.5h0M298.9 375.9h0M299.0 376.1h0M299.2 375.4h0M299.4 375.5h0M299.5 374.6h0M299.6 373.9h0M299.7 373.5h0M299.9 372.9h0M300.0 372.2h0M300.2 372.2h0M300.3 372.3h0M300.5 371.7h0M300.7 371.6h0M300.7 371.0h0M300.9 371.8h0M301.0 371.1h0M301.2 372.1h0M301.4 372.4h0M301.5 372.6h0M301.6 371.7h0M301.8 372.2h0M301.9 372.9h0M302.1 373.4h0M302.2 373.8h0M302.3 372.6h0M302.5 373.5h0M302.6 373.6h0M302.8 373.9h0M302.9 372.7h0M303.1 372.7h0M303.2 373.7h0M303.3 372.9h0M303.5 372.9h0M303.6 373.1h0M303.8 371.5h0M303.9 372.6h0M304.0 372.1h0M304.2 371.9h0M304.3 372.0h0M304.5 371.0h0M304.7 371.3h0M304.8 370.5h0M305.0 369.3h0M305.1 368.6h0M305.2 368.0h0M305.3 366.8h0M305.5 367.1h0M305.6 366.0h0M305.8 365.8h0M305.9 364.1h0M306.1 363.3h0M306.2 361.8h0M306.4 362.1h0M306.5 359.8h0M306.6 358.6h0M306.8 359.9h0M306.9 356.7h0M307.1 357.5h0M307.2 356.4h0M307.3 355.4h0M307.5 354.4h0M307.6 351.3h0M307.8 351.6h0M307.9 350.2h0M308.1 345.7h0M308.2 345.4h0M308.4 343.9h0M308.5 337.5h0M308.7 336.7h0M308.7 334.2h0M308.9 330.7h0M309.0 327.6h0M309.2 326.8h0M309.3 323.9h0M309.5 323.5h0M309.6 318.5h0M309.7 315.1h0M309.9 312.7h0M310.1 311.9h0M310.2 316.9h0M310.3 315.2h0M310.5 316.8h0M310.6 315.3h0M310.7 315.7h0M310.9 317.8h0M311.0 321.8h0M311.2 321.2h0M311.4 323.6h0M311.5 322.6h0M311.6 324.1h0M311.8 327.0h0M312.0 325.5h0M312.1 326.2h0M312.2 327.6h0M312.3 330.7h0M312.4 330.9h0M312.6 333.0h0M312.8 335.3h0M312.9 338.0h0M313.0 337.5h0M313.2 341.4h0M313.4 343.4h0M313.5 338.4h0M313.6 339.6h0M313.8 338.4h0M314.0 336.6h0M314.1 335.1h0M314.2 330.8h0M314.3 329.6h0M314.5 328.7h0M314.6 326.4h0M314.8 326.6h0M314.9 323.7h0M315.1 324.9h0M315.2 322.8h0M315.3 323.5h0M315.5 319.2h0M315.6 320.2h0M315.8 319.4h0M315.9 316.3h0M316.1 318.6h0M316.2 314.7h0M316.3 313.8h0M316.5 309.7h0M316.6 307.2h0M316.8 306.8h0M316.9 308.1h0M317.1 305.9h0M317.2 302.7h0M317.3 304.6h0M317.5 300.7h0M317.6 304.5h0M317.8 299.8h0M317.9 305.0h0M318.1 301.3h0M318.2 302.4h0M318.3 301.5h0M318.5 299.2h0M318.6 301.9h0M318.7 300.4h0M318.9 300.7h0M319.1 305.8h0M319.2 302.0h0M319.4 304.4h0M319.5 305.0h0M319.7 309.0h0M319.7 308.5h0M319.9 313.1h0M320.0 313.4h0M320.2 309.5h0M320.3 313.7h0M320.5 314.3h0M320.6 311.7h0M320.7 317.1h0M320.9 317.1h0M321.0 315.8h0M321.2 318.1h0M321.4 317.9h0M321.5 320.0h0M321.6 321.5h0M321.8 321.7h0M321.9 324.8h0M322.1 327.5h0M322.2 327.0h0M322.4 326.5h0M322.5 329.3h0M322.6 327.7h0M322.8 332.2h0M322.9 329.3h0M323.1 331.8h0M323.2 331.0h0M323.4 331.7h0M323.5 334.4h0M323.6 334.4h0M323.8 336.1h0M323.9 334.2h0M324.1 335.9h0M324.2 336.6h0M324.4 335.2h0M324.5 335.9h0M324.7 337.2h0M324.8 337.7h0M325.0 337.5h0M325.1 339.1h0M325.2 335.7h0M325.3 338.6h0M325.5 334.9h0M325.6 335.2h0M325.7 338.9h0M325.9 336.6h0M326.0 337.4h0M326.2 339.2h0M326.4 338.8h0M326.5 336.7h0M326.7 338.3h0M326.8 335.4h0M326.9 337.2h0M327.0 335.8h0M327.2 335.3h0M327.3 335.3h0M327.5 336.5h0M327.7 337.4h0M327.8 338.5h0M327.9 334.3h0M328.1 335.6h0M328.2 337.6h0M328.3 337.2h0M328.5 337.0h0M328.7 336.5h0M328.7 335.0h0M328.9 336.2h0M329.0 334.7h0M329.2 334.9h0M329.3 336.0h0M329.5 336.8h0M329.6 335.6h0M329.8 335.2h0M329.9 337.8h0M330.1 335.9h0M330.2 336.9h0M330.3 338.3h0M330.5 335.2h0M330.6 336.1h0M330.8 337.6h0M330.9 335.9h0M331.0 337.9h0M331.2 337.9h0M331.3 336.3h0M331.5 338.9h0M331.7 338.6h0M331.8 337.2h0M331.9 339.7h0M332.1 337.4h0M332.2 340.3h0M332.3 341.0h0M332.5 340.9h0M332.7 342.9h0M332.7 343.5h0M332.9 343.4h0M333.1 345.4h0M333.2 343.0h0M333.3 346.5h0M333.5 347.9h0M333.6 349.5h0M333.8 348.3h0M333.9 348.1h0M334.0 349.2h0M334.2 348.0h0M334.4 347.9h0M334.4 350.4h0M334.6 349.6h0M334.7 350.1h0M334.9 350.6h0M335.1 350.2h0M335.2 350.6h0M335.3 350.4h0M335.5 350.3h0M335.7 350.4h0M335.8 350.2h0M335.9 351.5h0M336.1 352.1h0M336.2 350.8h0M336.4 351.4h0M336.4 351.5h0M336.6 349.6h0M336.8 349.6h0M337.0 351.7h0M337.1 350.7h0M337.2 349.6h0M337.3 350.8h0M337.5 349.2h0M337.7 351.5h0M337.7 350.4h0M337.9 349.4h0M338.1 350.5h0M338.2 350.2h0M338.3 349.8h0M338.5 350.0h0M338.7 350.0h0M338.8 350.5h0M338.9 348.2h0M339.0 351.0h0M339.2 349.4h0M339.3 351.4h0M339.5 350.2h0M339.7 349.8h0M339.8 349.5h0M339.9 348.5h0M340.0 351.1h0M340.2 349.4h0M340.3 347.7h0M340.5 350.6h0M340.6 348.1h0M340.8 349.2h0M340.9 348.5h0M341.1 347.9h0M341.2 348.5h0M341.4 348.8h0M341.5 349.3h0M341.6 347.1h0M341.7 347.7h0M341.9 348.3h0M342.1 347.1h0M342.2 349.6h0M342.3 346.9h0M342.5 349.0h0M342.6 347.2h0M342.7 347.1h0M342.9 348.4h0M343.0 348.1h0M343.2 348.4h0M343.3 346.9h0M343.5 347.4h0M343.6 349.1h0M343.8 348.1h0M343.9 346.8h0M344.1 347.7h0M344.2 347.7h0M344.3 347.6h0M344.5 348.2h0M344.7 348.0h0M344.8 348.4h0M344.9 348.9h0M345.0 349.8h0M345.2 350.4h0M345.3 350.2h0M345.5 350.9h0M345.7 352.1h0M345.8 353.1h0M345.9 351.0h0M346.1 351.6h0M346.2 353.0h0M346.4 351.8h0M346.5 354.2h0M346.7 354.6h0M346.7 355.3h0M346.9 356.1h0M347.0 356.2h0M347.2 356.4h0M347.4 356.6h0M347.4 356.0h0M347.7 357.9h0M347.8 357.6h0M347.9 358.5h0M348.0 360.3h0M348.2 358.6h0M348.4 358.8h0M348.5 361.0h0M348.6 359.3h0M348.7 359.5h0M348.9 358.8h0M349.0 359.8h0M349.2 359.3h0M349.4 360.3h0M349.5 360.4h0M349.6 359.5h0M349.8 358.8h0M349.9 360.5h0M350.1 359.2h0M350.2 359.4h0M350.4 361.1h0M350.4 358.1h0M350.6 359.5h0M350.7 359.9h0M350.9 360.0h0M351.1 360.1h0M351.2 359.5h0M351.3 359.9h0M351.5 360.3h0M351.7 360.5h0M351.8 359.1h0M351.9 359.7h0M352.1 360.1h0M352.2 360.3h0M352.3 359.7h0M352.5 360.2h0M352.7 360.5h0M352.8 361.2h0M352.9 362.4h0M353.0 363.6h0M353.2 363.6h0M353.3 366.3h0M353.5 366.4h0M353.6 367.7h0M353.7 368.0h0M353.9 369.2h0M354.1 370.1h0M354.2 371.0h0M354.3 371.2h0M354.5 371.8h0M354.7 373.3h0M354.8 373.6h0M354.9 374.3h0M355.0 374.2h0M355.2 375.5h0M355.3 375.7h0M355.5 375.4h0M355.7 376.1h0M355.8 376.3h0M355.9 376.9h0M356.0 377.0h0M356.2 378.4h0M356.4 378.5h0M356.5 378.8h0M356.6 378.3h0M356.8 377.9h0M356.9 377.3h0M357.1 376.4h0M357.2 376.7h0M357.4 374.9h0M357.5 374.8h0M357.6 374.7h0M357.8 374.5h0M358.0 373.5h0M358.1 372.5h0M358.2 372.9h0M358.3 372.0h0M358.5 371.5h0M358.7 370.3h0M358.7 371.8h0M359.0 371.3h0M359.0 370.9h0M359.2 370.4h0M359.4 370.0h0M359.5 369.4h0M359.6 370.5h0M359.8 370.4h0M359.9 370.1h0M360.1 369.7h0M360.2 369.5h0M360.3 369.2h0M360.5 369.6h0M360.6 369.6h0M360.7 369.4h0M360.9 370.4h0M361.0 370.7h0M361.2 370.5h0M361.4 369.8h0M361.5 370.1h0M361.6 370.5h0M361.8 369.8h0M361.9 371.3h0M362.1 369.5h0M362.2 369.8h0M362.4 368.6h0M362.5 368.7h0M362.6 367.9h0M362.8 366.7h0M362.9 367.1h0M363.0 367.2h0M363.2 365.7h0M363.4 364.2h0M363.5 363.5h0M363.7 362.0h0M363.8 362.0h0M363.9 359.3h0M364.1 358.8h0M364.2 359.2h0M364.4 355.7h0M364.5 356.0h0M364.6 355.3h0M364.8 354.0h0M364.9 352.5h0M365.0 352.2h0M365.2 349.4h0M365.4 347.9h0M365.5 348.7h0M365.6 348.0h0M365.8 344.9h0M365.9 342.6h0M366.1 343.9h0M366.2 341.6h0M366.3 341.1h0M366.5 343.0h0M366.7 342.9h0M366.7 343.4h0M366.9 341.6h0M367.1 340.0h0M367.2 341.8h0M367.4 340.8h0M367.5 341.6h0M367.6 341.6h0M367.8 343.3h0M368.0 343.3h0M368.0 343.2h0M368.2 343.7h0M368.3 342.5h0M368.5 343.7h0M368.6 344.8h0M368.7 346.4h0M368.9 344.7h0M369.0 344.7h0M369.2 343.9h0M369.3 345.7h0M369.5 344.0h0M369.6 346.0h0M369.8 345.6h0M369.9 345.2h0M370.1 346.4h0M370.2 346.6h0M370.4 346.8h0M370.5 347.5h0M370.6 346.4h0M370.8 345.9h0M370.9 348.8h0M371.1 348.2h0M371.2 347.1h0M371.3 349.0h0M371.5 348.5h0M371.7 348.8h0M371.8 348.0h0M371.9 350.4h0M372.0 350.0h0M372.2 349.1h0M372.4 349.9h0M372.4 349.7h0M372.6 352.4h0M372.8 351.5h0M372.9 353.2h0M373.1 352.4h0M373.2 354.6h0M373.3 356.4h0M373.5 355.9h0M373.6 356.3h0M373.8 355.9h0M373.9 357.1h0M374.0 357.4h0M374.2 357.0h0M374.4 357.0h0M374.5 357.3h0M374.6 359.6h0M374.8 366.3h0M374.9 373.5h0M375.0 374.6h0M375.2 367.8h0M375.3 359.9h0M375.5 358.3h0M375.6 357.7h0M375.8 357.5h0M375.9 356.2h0M376.0 355.0h0M376.2 354.6h0M376.3 354.5h0M376.5 356.4h0M376.6 355.8h0M376.8 353.2h0M376.9 353.5h0M377.0 352.9h0M377.2 351.3h0M377.3 353.7h0M377.5 350.3h0M377.6 353.2h0M377.7 350.5h0M377.9 351.5h0M378.0 349.7h0M378.2 349.2h0M378.3 351.4h0M378.5 351.5h0M378.6 348.2h0M378.7 351.1h0M379.0 351.9h0M379.1 350.9h0M379.2 350.5h0M379.3 353.3h0M379.4 351.8h0M379.6 353.3h0M379.8 351.8h0M379.9 352.6h0M380.1 353.5h0M380.2 353.9h0M380.4 354.1h0M380.4 353.3h0M380.6 354.2h0M380.8 355.6h0M380.9 355.8h0M381.1 355.6h0M381.2 355.8h0M381.3 355.2h0M381.4 356.2h0M381.7 357.1h0M381.7 354.8h0M381.9 355.8h0M382.0 356.8h0M382.2 354.8h0M382.3 356.8h0M382.5 356.5h0M382.7 356.6h0M382.8 356.1h0M382.9 357.4h0M383.0 358.8h0M383.2 361.0h0M383.3 361.6h0M383.5 363.7h0M383.6 363.2h0M383.8 365.3h0M384.0 366.4h0M384.1 366.6h0M384.2 367.1h0M384.3 368.1h0M384.4 368.9h0M384.6 368.2h0M384.8 368.6h0M385.0 369.2h0M385.1 369.7h0M385.2 370.0h0M385.4 368.6h0M385.5 369.9h0M385.7 369.4h0M385.8 370.8h0M385.9 370.2h0M386.0 369.7h0M386.2 370.2h0M386.3 370.2h0M386.5 371.8h0M386.7 373.0h0M386.8 373.3h0M386.9 374.2h0M387.1 374.1h0M387.2 376.1h0M387.4 376.8h0M387.5 376.7h0M387.6 377.7h0M387.8 377.3h0M388.0 377.7h0M388.1 377.2h0M388.2 377.4h0M388.3 377.8h0M388.5 378.4h0M388.7 378.6h0M388.8 378.7h0M388.9 378.8h0M389.0 379.3h0M389.2 379.7h0M389.4 379.3h0M389.5 379.5h0M389.6 379.4h0M389.8 380.4h0M389.9 380.5h0M390.0 379.8h0M390.2 380.5h0M390.3 380.6h0M390.5 381.0h0M390.6 381.1h0M390.7 381.5h0M391.0 381.3h0M391.0 381.6h0M391.2 382.3h0M391.4 381.9h0M391.5 382.1h0M391.6 382.5h0M391.7 382.7h0M391.9 382.9h0M392.0 382.8h0M392.2 383.6h0M392.4 383.5h0M392.4 383.5h0M392.7 383.6h0M392.8 383.9h0M392.9 383.9h0M393.0 383.9h0M393.2 384.4h0M393.3 384.2h0M393.4 384.8h0M393.6 384.5h0M393.8 384.8h0M393.9 385.0h0M394.0 385.1h0M394.2 385.3h0M394.3 385.4h0M394.5 385.3h0M394.7 385.2h0M394.7 385.3h0M394.9 385.7h0M395.1 385.8h0M395.2 385.8h0M395.3 386.1h0M395.5 386.3h0M395.7 386.4h0M395.8 386.4h0M395.9 386.3h0M396.1 386.5h0M396.2 386.8h0M396.3 386.8h0M396.5 386.5h0M396.6 386.8h0M396.7 387.0h0M396.9 387.2h0M397.1 387.3h0M397.2 387.4h0M397.4 387.5h0M397.4 387.6h0M397.7 387.4h0M397.8 387.9h0M397.9 387.6h0M398.1 387.9h0M398.2 388.0h0M398.3 388.3h0M398.4 388.1h0M398.6 388.3h0M398.8 388.3h0M398.9 388.6h0M399.1 388.5h0M399.2 388.6h0M399.3 388.5h0M399.5 388.9h0M399.6 388.7h0M399.7 388.9h0M399.9 388.8h0M400.1 388.9h0M400.2 389.2h0M400.3 389.1h0M400.5 389.0h0M400.6 389.0h0M400.7 389.2h0M400.9 389.4h0M401.1 389.3h0M401.2 389.3h0M401.4 389.6h0M401.4 389.8h0M401.7 390.0h0M401.7 390.1h0M401.9 390.1h0M402.1 390.2h0M402.2 390.2h0M402.3 390.3h0M411.0 389.0h0M411.1 388.9h0M411.2 388.7h0M411.4 388.7h0M411.6 388.9h0M411.8 388.6h0M411.9 388.3h0M412.0 388.4h0M412.2 388.2h0M412.2 388.0h0M412.5 387.6h0M412.5 387.7h0M412.7 387.6h0M412.9 387.5h0M413.0 387.4h0M413.2 387.4h0M413.3 387.2h0M413.5 386.8h0M413.5 387.2h0M413.7 387.0h0M413.8 386.6h0M414.0 386.6h0M414.1 386.2h0M414.3 386.4h0M414.4 386.2h0M414.5 385.9h0M414.7 386.0h0M414.9 385.9h0M415.0 385.0h0M415.1 385.1h0M415.3 385.0h0M415.4 385.0h0M415.6 384.8h0M415.7 384.7h0M415.8 384.4h0M416.0 384.0h0M416.1 383.9h0M416.2 383.6h0M416.5 384.0h0M416.5 383.3h0M416.7 383.2h0M416.9 383.0h0M417.0 382.9h0M417.1 382.1h0M417.2 381.8h0M417.4 381.4h0M417.5 381.5h0M417.7 381.5h0M417.9 380.9h0M418.0 380.0h0M418.2 381.1h0M418.2 380.3h0M418.4 381.0h0M418.6 380.9h0M418.7 381.3h0M418.8 381.2h0M419.0 381.7h0M419.1 381.7h0M419.3 382.3h0M419.4 382.0h0M419.6 381.9h0M419.7 382.1h0M419.8 382.3h0M420.0 382.3h0M420.2 382.5h0M420.3 382.6h0M420.4 385.3h0M420.6 387.3h0M420.7 386.0h0M420.8 382.9h0M421.0 382.7h0M421.1 382.7h0M421.3 381.9h0M421.4 382.6h0M421.6 382.4h0M421.8 381.9h0M421.9 381.8h0M422.0 381.7h0M422.2 382.7h0M422.3 382.4h0M422.5 382.4h0M422.6 383.0h0M422.7 382.9h0M422.9 383.1h0M423.0 383.2h0M423.2 383.2h0M423.3 383.7h0M423.4 383.8h0M423.6 383.6h0M423.7 383.9h0M423.9 384.0h0M424.0 383.2h0M424.1 383.4h0M424.2 383.0h0M424.4 383.1h0M424.6 382.8h0M424.7 382.8h0M424.9 385.7h0M425.0 389.1h0M425.1 385.7h0M425.3 382.4h0M425.4 381.5h0M425.5 381.6h0M425.7 380.9h0M425.9 380.8h0M426.0 380.3h0M426.2 380.7h0M426.3 379.8h0M426.4 379.6h0M426.5 378.5h0M426.7 378.6h0M426.9 378.6h0M427.0 378.8h0M427.1 378.4h0M427.3 377.5h0M427.4 376.9h0M427.5 377.3h0M427.8 377.8h0M427.8 376.9h0M428.0 376.2h0M428.2 377.0h0M428.3 376.5h0M428.5 376.5h0M428.5 376.0h0M428.7 375.6h0M428.9 375.7h0M429.0 376.1h0M429.2 375.3h0M429.3 375.7h0M429.4 375.5h0M429.5 375.8h0M429.7 376.7h0M429.9 376.5h0M430.0 376.1h0M430.2 376.8h0M430.3 376.1h0M430.4 376.2h0M430.6 376.0h0M430.8 376.4h0M430.9 376.7h0M431.0 376.5h0M431.2 377.1h0M431.2 376.7h0M431.4 376.7h0M431.5 376.6h0M431.7 377.1h0M431.9 376.9h0M432.0 377.4h0M432.2 377.1h0M432.3 377.4h0M432.4 377.9h0M432.5 377.9h0M432.7 378.3h0M432.8 377.3h0M433.0 378.0h0M433.1 377.9h0M433.2 378.2h0M433.4 377.9h0M433.5 378.4h0M433.7 378.2h0M433.8 378.4h0M434.0 378.9h0M434.1 378.7h0M434.3 378.6h0M434.4 379.0h0M434.5 378.3h0M434.8 378.0h0M434.9 378.8h0M435.0 379.4h0M435.1 378.8h0M435.3 378.9h0M435.4 378.2h0M435.6 377.5h0M435.7 377.5h0M435.9 377.4h0M436.0 377.3h0M436.1 377.1h0M436.3 377.1h0M436.4 376.5h0M436.6 376.4h0M436.7 376.7h0M436.9 376.9h0M437.0 376.2h0M437.2 376.4h0M437.3 376.2h0M437.4 375.0h0M437.6 374.9h0M437.8 374.5h0M437.8 374.3h0M438.0 374.1h0M438.2 373.5h0M438.3 373.2h0M438.5 372.4h0M438.6 372.5h0M438.7 372.4h0M438.8 372.6h0M439.0 371.1h0M439.2 371.7h0M439.3 370.2h0M439.4 369.9h0M439.6 368.4h0M439.7 368.6h0M439.8 367.3h0M440.0 367.4h0M440.2 365.8h0M440.3 366.6h0M440.5 364.6h0M440.6 365.0h0M440.7 364.2h0M440.8 363.0h0M441.0 363.3h0M441.2 360.9h0M441.3 361.8h0M441.5 361.7h0M441.6 360.1h0M441.7 359.3h0M441.9 359.7h0M442.0 358.9h0M442.2 357.7h0M442.3 355.6h0M442.5 356.2h0M442.6 353.3h0M442.7 352.2h0M442.8 351.7h0M443.0 351.0h0M443.2 348.5h0M443.3 347.3h0M443.4 347.5h0M443.5 345.5h0M443.7 344.8h0M443.9 342.2h0M444.0 341.3h0M444.2 340.8h0M444.3 340.3h0M444.4 339.2h0M444.6 336.9h0M444.7 335.0h0M444.9 335.0h0M445.0 333.6h0M445.2 331.5h0M445.3 330.6h0M445.5 328.4h0M445.6 328.2h0M445.7 326.4h0M445.9 325.3h0M446.0 324.7h0M446.1 323.2h0M446.3 322.2h0M446.5 319.8h0M446.6 319.3h0M446.7 318.0h0M446.9 316.5h0M447.0 314.5h0M447.1 313.4h0M447.3 312.8h0M447.4 312.0h0M447.5 311.4h0M447.7 311.8h0M447.9 310.4h0M448.0 310.5h0M448.2 310.1h0M448.3 308.5h0M448.4 308.7h0M448.5 307.0h0M448.7 304.5h0M448.9 302.3h0M449.0 300.9h0M449.1 297.6h0M449.2 294.8h0M449.5 293.3h0M449.6 290.8h0M449.7 288.6h0M449.8 285.0h0M450.0 281.9h0M450.1 279.9h0M450.3 276.2h0M450.4 273.5h0M450.5 269.7h0M450.7 267.3h0M450.8 263.9h0M451.0 262.8h0M451.1 261.0h0M451.3 259.4h0M451.4 258.4h0M451.6 256.2h0M451.8 255.1h0M451.8 255.7h0M452.0 252.4h0M452.2 252.5h0M452.3 251.5h0M452.4 251.1h0M452.6 249.2h0M452.7 247.3h0M452.9 246.7h0M453.0 245.7h0M453.1 243.4h0M453.3 243.0h0M453.5 241.9h0M453.6 240.1h0M453.7 241.0h0M453.9 241.4h0M454.0 240.7h0M454.1 239.9h0M454.3 239.4h0M454.4 238.2h0M454.6 238.3h0M454.7 237.7h0M454.9 236.3h0M455.0 237.2h0M455.2 235.6h0M455.3 234.9h0M455.4 235.7h0M455.5 235.7h0M455.7 235.2h0M455.9 233.4h0M456.0 233.3h0M456.2 232.5h0M456.3 233.9h0M456.4 231.6h0M456.6 233.0h0M456.7 229.8h0M456.9 229.7h0M457.0 227.2h0M457.1 227.3h0M457.3 227.8h0M457.4 226.9h0M457.6 224.4h0M457.7 222.8h0M457.9 223.8h0M458.0 222.1h0M458.1 219.8h0M458.3 220.2h0M458.4 217.2h0M458.6 218.2h0M458.7 218.7h0M458.9 214.8h0M459.0 214.4h0M459.2 214.3h0M459.3 212.0h0M459.4 212.0h0M459.6 210.0h0M459.7 204.5h0M459.9 204.6h0M460.0 208.5h0M460.1 201.2h0M460.3 201.4h0M460.4 197.6h0M460.6 199.5h0M460.7 199.7h0M460.9 196.8h0M461.0 194.4h0M461.2 197.0h0M461.3 194.6h0M461.4 199.0h0M461.5 199.3h0M461.7 198.8h0M461.8 195.5h0M462.0 196.8h0M462.1 197.8h0M462.2 200.7h0M462.4 201.6h0M462.5 202.4h0M462.7 202.8h0M462.8 206.5h0M463.0 205.1h0M463.1 205.6h0M463.2 206.1h0M463.4 208.4h0M463.6 208.7h0M463.7 207.6h0M463.9 212.1h0M464.0 211.3h0M464.2 212.0h0M464.3 209.4h0M464.4 208.3h0M464.6 208.0h0M464.7 207.3h0M464.9 205.4h0M465.0 205.0h0M465.1 203.7h0M465.3 202.4h0M465.4 202.7h0M465.5 195.6h0M465.7 197.7h0M465.9 193.8h0M466.0 192.7h0M466.1 192.8h0M466.3 191.3h0M466.4 191.2h0M466.6 190.2h0M466.7 187.9h0M466.9 188.0h0M467.0 187.8h0M467.1 189.1h0M467.3 187.0h0M467.4 185.9h0M467.6 187.3h0M467.7 184.6h0M467.9 184.1h0M468.0 182.7h0M468.2 184.1h0M468.3 183.3h0M468.5 181.4h0M468.5 183.3h0M468.7 178.9h0M468.9 178.1h0M469.0 180.9h0M469.1 181.6h0M469.2 179.7h0M469.4 181.4h0M469.5 178.6h0M469.7 178.7h0M469.9 177.0h0M470.0 180.0h0M470.1 174.5h0M470.3 176.1h0M470.4 178.3h0M470.6 180.6h0M470.7 178.4h0M470.9 178.8h0M471.0 180.0h0M471.1 180.1h0M471.3 185.4h0M471.4 181.9h0M471.5 184.5h0M471.7 183.6h0M471.9 185.5h0M472.0 186.1h0M472.1 190.2h0M472.3 188.9h0M472.4 192.2h0M472.5 191.1h0M472.7 194.7h0M472.9 196.7h0M473.0 197.9h0M473.2 208.3h0M473.3 217.9h0M473.4 224.9h0M473.5 232.9h0M473.8 241.0h0M473.9 247.3h0M474.0 252.4h0M474.1 260.7h0M474.3 268.3h0M474.4 265.7h0M474.5 256.8h0M474.8 252.1h0M474.9 242.2h0M475.0 236.2h0M475.2 228.8h0M475.2 225.3h0M475.5 219.4h0M475.5 209.1h0M475.7 204.3h0M475.8 227.5h0M476.0 202.3h0M476.2 208.7h0M476.3 207.2h0M476.5 205.6h0M476.5 205.9h0M476.7 205.1h0M476.8 198.5h0M477.0 200.0h0M477.1 197.0h0M477.3 210.3h0M477.4 212.7h0M477.6 199.3h0M477.7 194.8h0M477.9 214.4h0M478.0 191.0h0M478.2 191.7h0M478.3 187.9h0M478.5 194.0h0M478.6 187.2h0M478.7 185.6h0M478.9 188.3h0M479.0 189.8h0M479.1 185.7h0M479.2 188.2h0M479.5 182.2h0M479.6 182.7h0M479.7 188.1h0M479.8 186.8h0M480.0 186.0h0M480.1 179.5h0M480.3 198.7h0M480.5 179.9h0M480.6 201.8h0M480.7 178.5h0M480.9 180.0h0M481.0 180.8h0M481.1 183.0h0M481.3 183.1h0M481.4 188.5h0M481.6 189.8h0M481.7 199.3h0M481.9 202.1h0M482.0 188.3h0M482.2 318.6h0M482.3 200.2h0M482.4 198.8h0M482.6 186.5h0M482.7 188.6h0M482.8 243.1h0M483.0 299.2h0M483.1 353.5h0M483.3 225.6h0M483.4 272.3h0M483.6 196.4h0M483.7 364.5h0M483.8 200.2h0M484.0 187.8h0M484.1 183.3h0M484.2 193.9h0M484.4 264.6h0M484.6 190.9h0M484.7 362.5h0M484.8 186.5h0M485.0 308.0h0M485.1 230.9h0M485.3 194.0h0M485.5 194.4h0M485.6 206.7h0M485.7 291.0h0M485.9 189.0h0M486.0 306.5h0M486.2 295.0h0M486.3 199.1h0M486.5 224.2h0M486.6 241.4h0M486.7 254.6h0M486.8 195.0h0M487.0 259.2h0M487.2 290.5h0M487.3 244.6h0M487.4 193.5h0M487.5 336.0h0M487.7 242.3h0M487.9 268.2h0M488.0 193.6h0M488.1 317.6h0M488.3 262.8h0M488.4 381.2h0M488.6 195.0h0M488.7 351.3h0M488.9 285.3h0M488.9 354.6h0M489.1 352.1h0M489.2 314.5h0M489.3 385.8h0M489.5 368.6h0M489.6 312.5h0M489.8 370.4h0M489.9 370.8h0M490.0 328.7h0M490.1 379.6h0M490.3 362.4h0M490.5 363.8h0M490.6 335.3h0M490.7 385.2h0M490.9 388.8h0M491.0 313.2h0M491.2 320.2h0M491.3 329.2h0M491.5 345.1h0M491.7 379.4h0M491.7 312.1h0M491.9 313.6h0M492.0 388.3h0M492.2 360.4h0M492.4 338.9h0M492.5 377.3h0M492.6 355.3h0M492.7 383.4h0M492.9 319.9h0M493.1 332.6h0M493.1 325.8h0M493.3 375.5h0M493.5 373.1h0M493.6 381.3h0M493.8 326.9h0M493.9 349.9h0M494.0 362.5h0M494.1 375.4h0M494.4 328.7h0M494.4 378.6h0M494.7 356.2h0M494.8 349.7h0M494.9 344.1h0M495.1 343.5h0M495.2 356.7h0M495.3 380.0h0M495.5 344.7h0M495.6 363.7h0M495.8 368.9h0M495.9 379.4h0M496.0 384.9h0M496.2 373.1h0M496.3 383.0h0M496.5 363.3h0M496.6 382.1h0M496.8 391.3h0M496.9 362.3h0M497.0 386.9h0M497.1 373.0h0M497.3 386.1h0M497.5 370.2h0M497.5 385.3h0M497.6 390.7h0M497.8 366.7h0M498.0 388.1h0M498.0 387.8h0M498.2 377.2h0M498.4 390.8h0M498.5 386.4h0M498.6 372.9h0M498.8 380.2h0M499.0 373.1h0M499.1 381.6h0M499.3 367.0h0M499.3 369.5h0M499.5 385.9h0M499.7 371.1h0M499.8 384.5h0M499.9 379.4h0M500.1 370.3h0M500.2 372.8h0M500.4 376.2h0M500.5 385.0h0M500.6 369.4h0M500.7 365.2h0M501.0 390.6h0M501.0 365.9h0M501.2 386.5h0M501.4 375.2h0M501.5 370.9h0M501.7 370.0h0M501.8 363.1h0M501.9 376.5h0M502.1 386.6h0M502.2 379.2h0M502.3 386.3h0M502.5 383.5h0M502.7 366.0h0M502.8 365.5h0M503.0 391.2h0M503.1 384.7h0M503.2 367.8h0M503.4 350.0h0M503.5 327.4h0M503.6 312.4h0M503.8 306.8h0M504.0 313.2h0M504.1 306.2h0M504.2 312.9h0M504.3 309.7h0M504.5 328.7h0M504.6 346.3h0M504.8 367.1h0M504.9 364.9h0M505.1 381.7h0M505.2 390.7h0M505.4 371.0h0M505.5 385.2h0M505.6 371.7h0M505.8 376.1h0M505.9 386.7h0M506.1 370.0h0M506.2 387.5h0M506.4 387.2h0M506.5 365.6h0M506.7 348.9h0M506.7 332.5h0M506.9 313.6h0M507.1 310.6h0M507.2 313.3h0M507.3 310.3h0M507.5 312.2h0M507.6 311.7h0M507.8 331.7h0M508.0 346.7h0M508.0 365.6h0M508.2 371.2h0M508.4 381.8h0M508.5 387.2h0M508.6 381.2h0M508.7 386.9h0M508.9 387.6h0M509.0 384.5h0M509.2 385.8h0M509.2 383.5h0M509.4 383.6h0M509.5 384.4h0M509.8 385.4h0M509.9 381.7h0M510.0 385.8h0M510.2 381.9h0M510.3 381.5h0M510.4 384.1h0M510.6 381.0h0M510.7 383.9h0M510.9 382.9h0M511.0 380.6h0M511.2 383.4h0M511.3 384.3h0M511.4 383.9h0M511.6 379.8h0M511.7 380.0h0M511.9 383.0h0M512.0 382.7h0M512.2 385.3h0M512.3 385.4h0M512.4 382.3h0M512.6 384.8h0M512.7 383.2h0M512.9 383.2h0M513.0 384.4h0M513.1 384.2h0M513.3 383.4h0M513.4 382.9h0M513.6 382.5h0M513.7 382.7h0M513.9 381.4h0M514.0 382.8h0M514.1 383.5h0M514.3 382.3h0M514.5 382.1h0M514.5 380.9h0M514.7 382.4h0M514.8 382.6h0M515.0 382.9h0M515.1 381.0h0M515.3 382.4h0M515.5 382.1h0M515.5 380.7h0M515.7 384.2h0M515.9 382.5h0M516.0 381.2h0M516.2 383.3h0M516.3 381.3h0M516.4 380.9h0M516.5 384.5h0M516.7 384.3h0M516.9 382.9h0M517.0 381.8h0M517.1 383.7h0M517.3 383.0h0M517.5 381.6h0M517.6 384.8h0M517.7 383.1h0M517.8 382.7h0M518.0 385.3h0M518.0 387.0h0M518.1 388.8h0M518.3 388.8h0M518.4 384.0h0M518.6 386.8h0M518.7 384.9h0M518.8 384.2h0M519.0 387.6h0M519.1 384.5h0M519.2 381.1h0M519.4 370.5h0M519.6 359.1h0M519.7 351.6h0M519.8 355.9h0M520.0 351.9h0M520.1 351.2h0M520.3 356.4h0M520.4 357.9h0M520.5 371.0h0M520.7 380.4h0M520.8 383.7h0M521.0 383.9h0M521.1 387.2h0M521.3 385.1h0M521.5 385.6h0M521.5 388.3h0M521.7 384.4h0M521.8 389.3h0M522.0 386.0h0M522.1 383.5h0M522.3 388.4h0M522.5 388.5h0M522.6 388.0h0M522.6 390.3h0M522.8 372.6h0M522.9 373.9h0M523.0 361.6h0M523.1 354.7h0M523.3 352.1h0M523.5 352.4h0M523.6 354.5h0M523.7 354.4h0M523.9 354.0h0M524.0 366.9h0M524.1 377.2h0M524.3 385.9h0M524.5 370.5h0M524.6 369.0h0M524.8 368.6h0M524.9 388.3h0M525.1 380.9h0M525.2 369.6h0M525.4 378.8h0M525.4 379.4h0M525.6 382.2h0M525.7 369.2h0M525.9 386.4h0M526.0 374.7h0M526.2 370.8h0M526.3 369.3h0M526.5 385.5h0M526.6 377.8h0M526.7 376.5h0M526.9 370.9h0M527.1 377.9h0M527.1 386.8h0M527.3 376.0h0M527.5 381.9h0M527.6 380.6h0M527.7 370.1h0M527.9 371.7h0M528.0 376.1h0M528.2 387.5h0M528.2 386.5h0M528.4 379.8h0M528.5 386.6h0M528.6 380.0h0M528.8 371.2h0M528.9 361.6h0M529.1 352.8h0M529.2 345.7h0M529.3 347.9h0M529.5 345.5h0M529.6 348.0h0M529.7 345.7h0M529.9 350.6h0M530.1 359.2h0M530.2 368.3h0M530.3 377.6h0M530.5 382.0h0M530.6 377.5h0M530.7 372.1h0M530.9 380.1h0M531.0 379.8h0M531.2 380.8h0M531.4 376.0h0M531.5 377.5h0M531.6 376.2h0M531.8 383.1h0M531.9 379.2h0M532.0 376.7h0M532.2 381.1h0M532.3 377.1h0M532.4 377.3h0M532.6 381.7h0M532.8 374.6h0M532.9 373.5h0M533.0 382.2h0M533.1 376.9h0M533.4 373.5h0M533.5 380.4h0M533.6 378.6h0M551.7 390.3h0M551.8 388.5h0M552.0 386.9h0M552.2 391.2h0M552.2 388.7h0M552.5 386.8h0M552.6 386.0h0M552.7 387.9h0M552.8 386.1h0M553.0 378.1h0M553.2 371.7h0M553.3 379.1h0M553.4 374.6h0M553.6 382.7h0M553.7 384.1h0M553.8 360.7h0M554.0 370.2h0M554.2 371.1h0M554.3 384.0h0M554.4 363.2h0M554.6 381.8h0M554.7 380.1h0M554.8 361.3h0M555.0 360.4h0M555.1 383.9h0M555.3 360.5h0M555.4 379.1h0M555.6 382.7h0M555.7 360.9h0M555.8 381.4h0M556.0 365.7h0M556.1 378.9h0M556.3 376.1h0M556.5 371.3h0M556.6 382.0h0M556.7 369.4h0M556.8 370.7h0M557.0 361.9h0M557.1 370.1h0M557.3 386.1h0M557.4 371.2h0M557.5 376.4h0M557.7 364.7h0M557.8 376.9h0M558.0 364.6h0M558.1 379.7h0M558.2 381.6h0M558.4 383.6h0M558.6 378.5h0M558.7 380.8h0M558.9 389.1h0M559.0 383.7h0M559.1 390.9h0M559.2 384.2h0M559.4 391.9h0M559.5 391.6h0M565.2 391.1h0M565.3 390.5h0M565.4 390.2h0M565.7 391.2h0M565.8 388.3h0M565.9 390.1h0M566.0 391.0h0M566.2 390.6h0M566.4 386.3h0M566.5 387.1h0M566.7 386.0h0M566.8 382.3h0M566.9 382.0h0M567.0 381.3h0M567.2 384.1h0M567.3 380.5h0M567.5 373.6h0M567.7 382.5h0M567.8 384.6h0M567.9 373.4h0M568.1 386.7h0M568.2 386.9h0M568.3 379.6h0M568.4 380.3h0M568.7 383.7h0M568.8 382.0h0M569.0 384.1h0M569.0 389.7h0M569.2 386.5h0M569.3 389.7h0M569.5 391.6h0M569.6 388.3h0M569.8 390.7h0M600.6 381.7h0M600.8 383.4h0M600.9 381.7h0M601.1 388.3h0M601.2 388.3h0M601.3 387.1h0M601.5 385.9h0M601.6 386.1h0M601.7 385.8h0M601.9 387.1h0M602.0 386.7h0M602.2 382.1h0M602.3 382.3h0M602.5 384.6h0M602.6 381.5h0M602.7 384.8h0M602.9 380.5h0M609.6 377.8h0" stroke="#ff00ff" stroke-width="3.45" stroke-linecap="round" fill="none"/>
<path d="M290.2 385.2h0M290.4 384.5h0M290.5 384.2h0M290.6 383.6h0M290.7 382.6h0M290.9 382.3h0M291.1 382.0h0M291.2 381.4h0M291.3 380.5h0M291.5 380.6h0M291.7 379.1h0M291.8 379.7h0M292.0 379.1h0M292.0 378.4h0M292.2 378.1h0M292.4 376.7h0M292.4 377.3h0M292.6 375.7h0M292.8 376.9h0M292.9 376.6h0M293.1 377.0h0M293.2 377.4h0M293.3 377.9h0M293.5 378.0h0M293.6 378.9h0M293.8 379.2h0M293.9 379.4h0M294.1 379.6h0M294.2 380.1h0M294.3 380.5h0M294.5 380.5h0M294.6 380.4h0M294.7 381.3h0M295.0 381.0h0M295.1 381.9h0M295.2 382.4h0M295.3 382.0h0M295.5 381.9h0M295.6 381.3h0M295.8 381.4h0M295.9 381.9h0M296.0 381.8h0M296.2 381.3h0M296.4 381.0h0M296.4 381.6h0M296.6 381.2h0M296.7 381.3h0M296.9 381.4h0M297.1 381.0h0M297.2 381.0h0M297.4 380.3h0M297.5 380.8h0M297.7 380.8h0M297.7 379.8h0M297.9 378.7h0M298.0 378.3h0M298.2 378.2h0M298.4 377.2h0M298.5 376.8h0M298.6 376.5h0M298.7 375.6h0M298.9 375.0h0M299.0 373.7h0M299.2 373.2h0M299.4 373.5h0M299.5 373.2h0M299.6 372.6h0M299.7 372.1h0M299.9 371.9h0M300.1 371.1h0M300.2 369.8h0M300.4 370.8h0M300.5 369.1h0M300.7 369.5h0M300.8 370.0h0M300.9 369.0h0M301.1 370.3h0M301.2 370.2h0M301.4 370.4h0M301.5 371.2h0M301.6 371.2h0M301.8 371.5h0M301.9 371.6h0M302.1 371.0h0M302.2 372.6h0M302.4 371.1h0M302.4 372.4h0M302.7 371.0h0M302.8 371.5h0M302.9 371.8h0M303.0 371.0h0M303.2 371.5h0M303.4 371.1h0M303.5 371.5h0M303.7 370.4h0M303.8 369.8h0M303.9 370.1h0M304.0 371.3h0M304.2 370.7h0M304.4 370.4h0M304.5 370.4h0M304.6 369.4h0M304.7 368.8h0M304.9 368.3h0M305.1 366.2h0M305.2 367.0h0M305.4 365.3h0M305.5 365.4h0M305.7 364.5h0M305.8 363.7h0M305.9 363.1h0M306.1 362.0h0M306.2 360.5h0M306.3 360.3h0M306.5 357.3h0M306.7 356.5h0M306.8 356.5h0M307.0 354.3h0M307.1 354.0h0M307.2 353.3h0M307.3 351.3h0M307.5 352.4h0M307.6 347.5h0M307.7 345.7h0M307.9 346.5h0M308.1 342.0h0M308.2 341.3h0M308.3 337.7h0M308.5 335.3h0M308.7 333.1h0M308.7 328.4h0M308.9 327.1h0M309.1 321.6h0M309.2 321.6h0M309.4 319.4h0M309.5 317.8h0M309.6 311.0h0M309.7 313.2h0M309.9 308.1h0M310.1 308.8h0M310.2 310.9h0M310.4 311.9h0M310.5 312.6h0M310.6 312.6h0M310.7 313.2h0M311.0 316.3h0M311.0 315.4h0M311.2 316.1h0M311.3 316.9h0M311.5 318.3h0M311.6 320.9h0M311.8 319.3h0M311.9 321.5h0M312.1 322.9h0M312.2 326.6h0M312.4 326.5h0M312.5 323.9h0M312.7 326.6h0M312.8 331.3h0M312.9 333.7h0M313.1 333.4h0M313.2 335.3h0M313.3 337.5h0M313.5 336.3h0M313.6 336.0h0M313.8 336.3h0M313.9 333.7h0M314.1 330.1h0M314.2 327.8h0M314.3 324.8h0M314.5 325.9h0M314.6 325.0h0M314.8 322.5h0M314.9 318.2h0M315.1 318.0h0M315.2 320.3h0M315.4 318.6h0M315.4 316.1h0M315.7 318.9h0M315.7 313.9h0M315.9 315.3h0M316.0 311.6h0M316.2 309.8h0M316.4 310.6h0M316.5 306.4h0M316.6 305.4h0M316.8 300.3h0M316.9 300.8h0M317.0 302.3h0M317.2 297.3h0M317.3 295.3h0M317.5 299.3h0M317.7 292.5h0M317.8 293.9h0M317.9 293.8h0M318.1 293.9h0M318.2 290.9h0M318.4 295.2h0M318.5 296.3h0M318.6 296.9h0M318.8 293.8h0M318.9 296.4h0M319.0 296.7h0M319.2 299.4h0M319.3 302.0h0M319.5 303.8h0M319.6 301.3h0M319.7 304.4h0M319.9 305.3h0M320.0 305.0h0M320.2 308.1h0M320.4 308.1h0M320.5 308.0h0M320.6 308.3h0M320.7 308.2h0M320.9 311.1h0M321.0 312.3h0M321.2 312.5h0M321.3 315.5h0M321.5 318.4h0M321.6 317.9h0M321.8 317.3h0M321.9 317.2h0M322.1 323.8h0M322.2 322.5h0M322.4 323.0h0M322.5 325.8h0M322.6 324.5h0M322.7 326.4h0M322.9 328.1h0M323.1 326.7h0M323.2 327.1h0M323.3 329.4h0M323.5 328.8h0M323.7 332.2h0M323.7 333.7h0M323.9 332.0h0M324.0 334.1h0M324.2 332.2h0M324.3 332.9h0M324.5 332.5h0M324.6 332.3h0M324.8 332.9h0M324.9 333.6h0M325.1 333.0h0M325.2 333.8h0M325.4 333.0h0M325.5 333.2h0M325.7 333.3h0M325.7 334.8h0M325.9 334.0h0M326.0 332.0h0M326.2 332.9h0M326.3 334.1h0M326.5 334.2h0M326.6 334.2h0M326.7 332.2h0M326.9 334.1h0M327.0 334.1h0M327.2 330.9h0M327.3 334.0h0M327.5 332.0h0M327.6 330.8h0M327.8 334.5h0M328.0 333.1h0M328.1 334.0h0M328.2 331.0h0M328.3 332.1h0M328.5 332.5h0M328.7 331.9h0M328.8 333.3h0M328.9 332.9h0M329.1 331.0h0M329.2 329.6h0M329.4 329.9h0M329.5 330.6h0M329.6 330.8h0M329.8 333.0h0M329.9 331.1h0M330.0 332.4h0M330.2 331.8h0M330.3 334.2h0M330.5 333.4h0M330.7 333.5h0M330.8 334.3h0M331.0 335.0h0M331.0 334.2h0M331.2 333.9h0M331.4 334.9h0M331.5 336.2h0M331.7 335.3h0M331.8 335.5h0M331.9 333.7h0M332.0 336.3h0M332.2 338.7h0M332.4 337.1h0M332.5 338.3h0M332.6 338.3h0M332.8 339.5h0M332.9 341.4h0M333.1 339.8h0M333.2 339.3h0M333.3 343.3h0M333.4 344.6h0M333.6 347.4h0M333.7 347.8h0M334.0 346.2h0M334.0 347.2h0M334.2 347.6h0M334.3 344.7h0M334.4 347.4h0M334.6 345.4h0M334.8 347.1h0M334.9 347.6h0M335.1 345.4h0M335.2 347.0h0M335.3 346.6h0M335.4 349.1h0M335.6 347.3h0M335.8 348.3h0M335.9 348.3h0M336.1 349.6h0M336.2 346.4h0M336.4 348.2h0M336.4 346.1h0M336.7 347.7h0M336.8 348.9h0M336.9 349.5h0M337.0 349.6h0M337.2 348.4h0M337.4 349.5h0M337.5 347.6h0M337.6 349.1h0M337.8 345.7h0M337.9 345.3h0M338.0 346.2h0M338.2 346.8h0M338.3 347.8h0M338.5 345.5h0M338.6 345.9h0M338.8 348.9h0M338.9 345.5h0M339.0 346.7h0M339.2 347.0h0M339.4 347.7h0M339.5 345.8h0M339.6 346.0h0M339.8 345.5h0M339.9 345.8h0M340.1 348.5h0M340.2 347.1h0M340.3 346.3h0M340.5 346.9h0M340.6 347.1h0M340.8 346.8h0M340.9 346.4h0M341.0 345.1h0M341.2 344.6h0M341.4 346.1h0M341.5 346.8h0M341.6 345.9h0M341.8 344.9h0M341.9 345.6h0M342.1 344.0h0M342.2 344.4h0M342.3 343.7h0M342.5 344.9h0M342.7 344.2h0M342.8 344.3h0M342.9 343.8h0M343.0 345.4h0M343.2 345.3h0M343.3 344.2h0M343.4 343.3h0M343.7 344.6h0M343.7 344.9h0M343.9 345.5h0M344.1 346.2h0M344.2 344.2h0M344.4 344.4h0M344.5 344.3h0M344.7 347.1h0M344.8 346.1h0M344.9 345.3h0M345.1 348.0h0M345.2 346.8h0M345.3 347.7h0M345.5 347.0h0M345.6 349.5h0M345.8 350.9h0M345.9 348.3h0M346.1 347.9h0M346.2 349.8h0M346.4 351.2h0M346.5 351.6h0M346.6 351.2h0M346.8 352.4h0M347.0 351.9h0M347.0 354.2h0M347.2 353.5h0M347.3 355.1h0M347.5 353.4h0M347.6 355.2h0M347.8 354.9h0M347.9 355.0h0M348.1 357.1h0M348.2 356.3h0M348.4 356.7h0M348.5 357.1h0M348.6 357.3h0M348.8 356.9h0M348.9 357.2h0M349.0 357.1h0M349.2 357.3h0M349.3 358.7h0M349.5 358.1h0M349.6 358.3h0M349.7 358.0h0M350.0 357.7h0M350.0 358.5h0M350.2 357.1h0M350.4 357.4h0M350.5 357.7h0M350.6 356.3h0M350.8 358.6h0M350.9 357.4h0M351.0 357.2h0M351.2 358.1h0M351.4 359.1h0M351.5 356.5h0M351.6 357.0h0M351.8 358.8h0M351.9 359.1h0M352.0 358.7h0M352.2 359.1h0M352.4 357.8h0M352.5 358.4h0M352.6 358.8h0M352.7 359.6h0M352.9 360.5h0M353.1 362.0h0M353.2 363.0h0M353.3 363.6h0M353.5 364.3h0M353.7 365.5h0M353.8 365.0h0M353.9 367.7h0M354.0 368.7h0M354.2 369.1h0M354.3 370.7h0M354.5 370.5h0M354.7 371.8h0M354.7 372.6h0M354.9 372.7h0M355.1 374.0h0M355.2 374.6h0M355.4 375.0h0M355.5 375.0h0M355.6 375.3h0M355.7 376.0h0M355.9 375.8h0M356.0 375.8h0M356.2 377.3h0M356.3 377.2h0M356.5 377.8h0M356.6 377.6h0M356.7 376.6h0M356.9 375.8h0M357.1 375.3h0M357.2 375.4h0M357.3 374.0h0M357.5 374.6h0M357.6 373.0h0M357.8 372.3h0M357.9 372.5h0M358.0 371.8h0M358.2 371.3h0M358.3 370.3h0M358.5 369.5h0M358.6 369.1h0M358.7 369.3h0M358.9 368.5h0M359.0 369.7h0M359.2 369.2h0M359.4 368.7h0M359.4 368.7h0M359.6 368.7h0M359.8 368.3h0M359.9 368.6h0M360.1 368.6h0M360.2 369.0h0M360.3 368.7h0M360.5 367.5h0M360.6 368.3h0M360.8 367.1h0M360.9 367.8h0M361.0 368.3h0M361.2 368.0h0M361.3 369.2h0M361.5 367.5h0M361.7 368.0h0M361.8 368.4h0M361.9 368.7h0M362.1 368.0h0M362.2 368.0h0M362.4 367.4h0M362.5 366.9h0M362.6 367.4h0M362.8 365.5h0M362.9 365.4h0M363.1 365.2h0M363.2 363.9h0M363.4 363.3h0M363.5 361.3h0M363.7 360.7h0M363.7 360.3h0M363.9 358.8h0M364.0 356.4h0M364.2 357.1h0M364.4 354.3h0M364.4 352.1h0M364.6 353.0h0M364.7 350.7h0M364.9 349.5h0M365.1 349.5h0M365.2 348.0h0M365.3 344.1h0M365.5 345.1h0M365.6 344.5h0M365.8 342.1h0M365.9 341.4h0M366.0 340.4h0M366.2 338.3h0M366.4 336.1h0M366.4 337.7h0M366.6 339.4h0M366.8 340.2h0M366.9 337.7h0M367.0 337.5h0M367.2 341.0h0M367.4 337.4h0M367.5 337.5h0M367.7 340.2h0M367.8 340.0h0M367.9 339.0h0M368.0 340.1h0M368.2 339.9h0M368.3 339.4h0M368.4 339.0h0M368.7 340.8h0M368.8 342.1h0M368.9 341.5h0M369.1 340.1h0M369.2 343.2h0M369.3 342.9h0M369.5 343.4h0M369.6 342.6h0M369.8 341.8h0M369.9 345.0h0M370.1 342.4h0M370.2 344.5h0M370.4 344.0h0M370.5 345.5h0M370.7 341.5h0M370.7 341.8h0M370.9 344.6h0M371.1 345.2h0M371.2 344.4h0M371.3 345.3h0M371.5 345.4h0M371.6 344.3h0M371.7 345.7h0M371.9 346.4h0M372.1 347.9h0M372.2 347.4h0M372.3 348.4h0M372.5 347.6h0M372.6 349.7h0M372.7 349.0h0M373.0 349.6h0M373.1 349.6h0M373.2 351.5h0M373.4 353.8h0M373.5 354.0h0M373.6 354.2h0M373.8 353.5h0M373.9 353.6h0M374.1 355.6h0M374.2 353.3h0M374.3 355.6h0M374.4 355.2h0M374.6 356.7h0M374.8 365.7h0M374.9 372.8h0M375.0 373.4h0M375.2 365.8h0M375.4 358.7h0M375.4 355.8h0M375.7 354.8h0M375.8 354.8h0M375.9 353.0h0M376.0 353.9h0M376.2 352.0h0M376.3 352.5h0M376.5 353.9h0M376.6 351.9h0M376.8 350.7h0M377.0 350.1h0M377.1 349.2h0M377.2 350.9h0M377.4 349.4h0M377.5 348.0h0M377.7 349.7h0M377.8 348.1h0M377.9 348.1h0M378.0 347.2h0M378.2 346.1h0M378.4 349.3h0M378.5 348.2h0M378.6 347.6h0M378.7 347.2h0M378.9 348.6h0M379.1 348.4h0M379.2 348.1h0M379.3 350.7h0M379.4 350.4h0M379.6 349.2h0M379.8 349.3h0M379.9 349.5h0M380.0 349.2h0M380.2 350.2h0M380.3 351.5h0M380.4 350.8h0M380.6 351.6h0M380.8 352.8h0M380.9 351.3h0M381.0 352.0h0M381.2 352.4h0M381.3 352.5h0M381.5 353.0h0M381.6 354.0h0M381.7 352.9h0M381.9 352.9h0M382.0 353.1h0M382.2 353.7h0M382.3 353.4h0M382.4 353.6h0M382.6 354.2h0M382.8 354.4h0M382.9 355.3h0M383.1 357.7h0M383.2 358.6h0M383.3 358.5h0M383.5 360.8h0M383.6 361.3h0M383.8 363.3h0M383.9 364.2h0M384.1 364.9h0M384.2 364.8h0M384.4 365.7h0M384.4 366.9h0M384.6 367.4h0M384.8 367.6h0M384.9 367.3h0M385.1 367.7h0M385.2 367.2h0M385.3 367.0h0M385.5 367.4h0M385.6 367.2h0M385.7 368.0h0M385.9 368.1h0M386.0 368.8h0M386.2 369.6h0M386.3 369.5h0M386.5 371.3h0M386.6 370.5h0M386.8 371.2h0M387.0 373.0h0M387.0 373.4h0M387.2 374.0h0M387.3 374.9h0M387.5 375.8h0M387.7 376.5h0M387.7 375.7h0M387.9 376.6h0M388.0 376.2h0M388.2 376.8h0M388.4 376.9h0M388.5 376.9h0M388.6 377.2h0M388.8 377.7h0M388.9 378.0h0M389.1 377.7h0M389.2 378.1h0M389.3 378.6h0M389.5 378.8h0M389.6 378.6h0M389.8 379.4h0M389.9 379.3h0M390.0 378.8h0M390.2 379.1h0M390.4 379.9h0M390.5 379.8h0M390.7 380.7h0M390.8 380.4h0M390.9 381.3h0M391.1 381.4h0M391.2 381.2h0M391.3 381.4h0M391.5 382.0h0M391.6 381.8h0M391.7 381.6h0M392.0 382.0h0M392.1 382.3h0M392.2 382.9h0M392.4 382.6h0M392.5 382.6h0M392.6 382.9h0M392.7 383.1h0M392.9 383.4h0M393.1 383.2h0M393.2 383.4h0M393.3 383.4h0M393.4 384.1h0M393.6 383.9h0M393.7 384.1h0M394.0 384.5h0M394.0 384.6h0M394.2 384.9h0M394.4 384.5h0M394.5 385.1h0M394.6 385.1h0M394.8 384.7h0M395.0 385.3h0M395.0 385.0h0M395.2 385.3h0M395.4 385.3h0M395.5 385.6h0M395.6 385.8h0M395.8 385.8h0M395.9 385.9h0M396.0 386.3h0M396.2 386.2h0M396.3 386.2h0M396.5 386.4h0M396.6 386.7h0M396.7 386.2h0M396.9 386.5h0M397.1 386.7h0M397.2 386.9h0M397.3 386.7h0M397.5 387.2h0M397.7 387.0h0M397.8 387.3h0M397.9 387.5h0M398.0 387.5h0M398.2 387.5h0M398.3 387.6h0M398.4 387.6h0M398.6 388.2h0M398.8 387.9h0M398.9 388.1h0M399.0 388.0h0M399.2 388.0h0M399.3 388.3h0M399.5 388.5h0M399.7 388.4h0M399.8 388.4h0M399.9 388.5h0M400.1 388.6h0M400.2 388.8h0M400.4 388.9h0M400.5 388.9h0M400.6 388.8h0M400.8 389.0h0M400.9 388.9h0M401.1 389.0h0M401.2 389.0h0M401.4 389.4h0M401.4 389.3h0M401.6 389.5h0M401.7 389.7h0M401.9 389.8h0M402.1 390.0h0M402.2 389.9h0M402.3 390.2h0M411.0 388.6h0M411.2 388.3h0M411.3 388.3h0M411.5 388.5h0M411.6 388.3h0M411.8 388.1h0M411.8 388.1h0M412.0 387.7h0M412.1 388.1h0M412.2 387.8h0M412.5 387.2h0M412.5 387.5h0M412.7 387.0h0M412.8 387.2h0M413.0 386.9h0M413.2 386.7h0M413.3 386.6h0M413.4 386.7h0M413.5 386.6h0M413.7 386.7h0M413.9 385.9h0M414.0 386.1h0M414.1 385.8h0M414.3 385.9h0M414.4 385.6h0M414.5 385.5h0M414.7 385.3h0M414.8 385.1h0M415.0 384.6h0M415.2 384.7h0M415.3 384.3h0M415.4 384.4h0M415.6 384.2h0M415.7 384.1h0M415.9 383.8h0M416.0 383.9h0M416.1 383.0h0M416.3 383.4h0M416.5 383.1h0M416.6 382.8h0M416.7 381.9h0M416.8 382.2h0M417.0 381.9h0M417.2 381.4h0M417.3 381.0h0M417.4 380.5h0M417.6 380.4h0M417.7 380.4h0M417.9 379.4h0M418.0 379.8h0M418.1 380.0h0M418.3 379.4h0M418.5 380.0h0M418.6 380.2h0M418.7 380.1h0M418.9 380.7h0M419.0 380.3h0M419.2 381.0h0M419.2 381.4h0M419.4 381.3h0M419.6 381.2h0M419.7 381.8h0M419.9 381.4h0M420.0 382.0h0M420.2 382.1h0M420.3 381.7h0M420.5 384.6h0M420.6 387.0h0M420.7 384.9h0M420.9 382.2h0M421.0 381.4h0M421.2 381.9h0M421.3 381.3h0M421.4 381.7h0M421.6 381.1h0M421.7 381.0h0M421.8 381.5h0M422.0 381.3h0M422.2 381.4h0M422.2 381.9h0M422.5 381.5h0M422.6 382.1h0M422.7 381.7h0M422.9 382.5h0M423.0 382.1h0M423.1 382.5h0M423.3 382.9h0M423.4 383.1h0M423.6 382.8h0M423.7 383.1h0M423.9 383.0h0M424.0 382.7h0M424.2 382.8h0M424.3 382.8h0M424.4 382.3h0M424.6 382.2h0M424.7 382.5h0M424.9 385.5h0M425.0 388.5h0M425.1 385.4h0M425.3 381.3h0M425.4 380.6h0M425.6 380.8h0M425.7 380.1h0M425.9 379.9h0M426.0 380.1h0M426.1 379.3h0M426.2 378.6h0M426.5 378.3h0M426.6 378.0h0M426.7 377.5h0M426.8 376.8h0M427.0 377.3h0M427.1 376.8h0M427.3 376.9h0M427.5 375.9h0M427.5 376.0h0M427.7 376.5h0M427.8 375.7h0M428.0 375.4h0M428.2 375.7h0M428.3 375.4h0M428.4 375.6h0M428.5 375.3h0M428.7 373.9h0M428.9 375.5h0M429.0 374.7h0M429.2 374.4h0M429.3 374.7h0M429.4 374.9h0M429.6 374.6h0M429.7 375.4h0M429.9 375.6h0M430.0 374.7h0M430.2 375.6h0M430.3 375.1h0M430.5 374.7h0M430.6 375.6h0M430.7 375.6h0M430.9 375.0h0M431.0 374.9h0M431.1 375.1h0M431.3 374.6h0M431.4 374.9h0M431.6 375.2h0M431.7 376.0h0M431.9 375.9h0M432.0 376.1h0M432.2 376.5h0M432.3 376.1h0M432.4 377.0h0M432.6 376.5h0M432.8 377.4h0M432.8 376.7h0M433.0 376.6h0M433.1 377.7h0M433.3 377.4h0M433.5 377.6h0M433.6 378.0h0M433.7 376.7h0M433.8 377.4h0M434.0 377.3h0M434.1 377.4h0M434.3 377.1h0M434.4 377.5h0M434.6 377.4h0M434.7 377.5h0M434.9 378.0h0M435.0 378.0h0M435.1 377.3h0M435.3 377.7h0M435.4 377.4h0M435.5 376.4h0M435.7 376.3h0M435.9 376.8h0M436.0 376.7h0M436.1 375.9h0M436.3 375.9h0M436.4 375.6h0M436.6 375.7h0M436.7 375.7h0M436.9 375.9h0M437.0 375.3h0M437.2 374.7h0M437.3 374.5h0M437.4 373.3h0M437.5 373.5h0M437.7 373.3h0M437.8 373.4h0M438.0 372.8h0M438.1 373.0h0M438.3 372.4h0M438.5 371.3h0M438.6 371.9h0M438.7 371.5h0M438.9 370.5h0M439.0 369.5h0M439.2 369.2h0M439.3 369.2h0M439.5 368.5h0M439.6 366.5h0M439.7 366.1h0M439.9 366.2h0M440.0 365.0h0M440.1 364.9h0M440.3 364.1h0M440.5 363.4h0M440.5 363.3h0M440.7 361.7h0M440.9 360.6h0M441.0 360.8h0M441.1 360.1h0M441.3 358.4h0M441.4 358.5h0M441.6 358.4h0M441.8 356.7h0M441.9 357.0h0M442.0 356.0h0M442.1 354.9h0M442.3 354.1h0M442.5 352.9h0M442.5 351.0h0M442.8 349.5h0M442.8 349.1h0M443.0 347.3h0M443.1 346.2h0M443.3 345.1h0M443.4 343.4h0M443.6 342.4h0M443.7 340.8h0M443.9 339.9h0M444.0 338.7h0M444.1 338.0h0M444.2 335.6h0M444.4 335.8h0M444.6 333.1h0M444.7 332.1h0M444.8 330.4h0M445.0 329.5h0M445.1 328.1h0M445.3 326.4h0M445.4 324.9h0M445.6 323.8h0M445.7 321.6h0M445.9 321.8h0M446.0 320.1h0M446.1 319.2h0M446.3 317.6h0M446.5 315.2h0M446.6 314.0h0M446.7 312.4h0M446.8 311.7h0M447.0 309.2h0M447.2 308.1h0M447.3 307.4h0M447.4 307.7h0M447.6 305.9h0M447.8 306.2h0M447.8 305.5h0M448.0 304.6h0M448.1 304.7h0M448.3 303.3h0M448.4 302.5h0M448.5 301.2h0M448.7 298.9h0M448.8 296.5h0M449.0 293.9h0M449.2 291.3h0M449.3 289.6h0M449.4 286.3h0M449.6 285.1h0M449.7 281.3h0M449.9 278.4h0M450.0 275.0h0M450.1 272.7h0M450.2 268.8h0M450.5 265.6h0M450.6 262.5h0M450.7 259.2h0M450.8 255.8h0M451.0 252.7h0M451.1 252.7h0M451.3 250.2h0M451.4 250.0h0M451.6 247.8h0M451.7 246.7h0M451.9 245.7h0M452.0 243.9h0M452.1 244.6h0M452.3 241.9h0M452.4 241.6h0M452.6 239.6h0M452.7 237.5h0M452.9 237.1h0M453.0 236.2h0M453.1 233.6h0M453.3 234.3h0M453.4 231.1h0M453.5 230.6h0M453.7 230.6h0M453.9 230.5h0M454.0 230.3h0M454.1 229.8h0M454.3 227.5h0M454.4 229.0h0M454.6 227.0h0M454.8 228.7h0M454.9 226.9h0M455.0 227.6h0M455.1 226.9h0M455.3 224.7h0M455.4 224.5h0M455.6 225.4h0M455.7 225.2h0M455.8 225.1h0M456.0 223.8h0M456.1 224.2h0M456.3 221.8h0M456.4 221.5h0M456.6 221.3h0M456.8 219.0h0M456.9 219.1h0M457.0 217.9h0M457.2 217.0h0M457.2 218.3h0M457.4 216.9h0M457.5 213.2h0M457.8 210.9h0M457.8 213.3h0M458.0 211.2h0M458.2 209.1h0M458.3 207.6h0M458.5 205.7h0M458.5 207.0h0M458.7 207.5h0M458.8 204.7h0M459.0 200.0h0M459.2 203.2h0M459.3 198.3h0M459.4 198.7h0M459.6 196.2h0M459.7 192.9h0M459.8 192.3h0M460.0 195.9h0M460.2 192.8h0M460.3 189.8h0M460.4 188.1h0M460.5 185.5h0M460.8 187.9h0M460.9 186.1h0M461.0 180.7h0M461.1 181.7h0M461.3 182.0h0M461.4 185.7h0M461.5 184.1h0M461.7 182.5h0M461.9 185.6h0M462.0 185.9h0M462.2 184.8h0M462.3 186.7h0M462.4 189.9h0M462.5 189.8h0M462.7 189.7h0M462.8 190.8h0M463.0 191.5h0M463.2 196.5h0M463.3 194.6h0M463.4 198.1h0M463.6 196.0h0M463.7 197.5h0M463.8 197.6h0M464.0 202.2h0M464.1 197.4h0M464.3 201.7h0M464.4 194.4h0M464.5 197.0h0M464.7 198.0h0M464.9 195.3h0M465.0 194.1h0M465.1 193.6h0M465.3 191.6h0M465.5 187.3h0M465.6 184.5h0M465.7 186.3h0M465.8 179.6h0M466.0 179.1h0M466.2 179.6h0M466.3 179.9h0M466.5 176.9h0M466.6 179.1h0M466.7 174.3h0M466.8 175.8h0M467.0 172.7h0M467.2 174.2h0M467.3 175.0h0M467.4 170.3h0M467.6 170.0h0M467.7 170.8h0M467.8 170.0h0M468.0 169.4h0M468.2 168.5h0M468.3 169.5h0M468.4 171.8h0M468.6 166.6h0M468.7 168.4h0M468.9 164.8h0M469.0 169.6h0M469.1 162.9h0M469.3 169.3h0M469.4 167.6h0M469.5 164.5h0M469.7 162.1h0M469.9 165.6h0M470.0 168.0h0M470.1 160.3h0M470.2 162.7h0M470.5 166.7h0M470.6 166.1h0M470.7 166.6h0M470.8 169.9h0M471.0 165.4h0M471.2 165.6h0M471.3 171.4h0M471.5 172.8h0M471.6 171.3h0M471.7 169.4h0M471.9 175.6h0M472.0 173.5h0M472.1 174.8h0M472.3 177.0h0M472.4 179.5h0M472.6 179.3h0M472.7 181.6h0M472.9 179.6h0M473.0 188.4h0M473.1 196.7h0M473.3 203.7h0M473.5 211.1h0M473.6 222.3h0M473.7 231.6h0M473.9 236.1h0M474.0 243.6h0M474.2 252.6h0M474.3 260.4h0M474.4 255.7h0M474.5 247.4h0M474.8 240.8h0M474.8 234.6h0M475.0 225.2h0M475.1 219.5h0M475.3 213.3h0M475.4 206.3h0M475.6 199.2h0M475.8 192.2h0M475.8 216.4h0M476.0 189.4h0M476.2 197.9h0M476.3 194.4h0M476.5 194.9h0M476.6 190.0h0M476.7 194.9h0M476.8 188.0h0M477.0 190.0h0M477.1 183.8h0M477.3 197.0h0M477.4 199.0h0M477.6 183.5h0M477.8 180.5h0M477.9 205.3h0M478.0 179.8h0M478.1 178.7h0M478.3 176.3h0M478.5 179.7h0M478.6 173.9h0M478.7 172.4h0M478.9 174.2h0M479.0 174.6h0M479.2 172.3h0M479.3 176.7h0M479.4 165.8h0M479.5 165.2h0M479.7 173.9h0M479.8 174.6h0M480.0 173.3h0M480.1 167.3h0M480.3 182.7h0M480.5 163.2h0M480.6 191.7h0M480.8 166.7h0M480.9 164.3h0M481.0 171.4h0M481.1 169.8h0M481.3 173.2h0M481.4 175.7h0M481.6 178.0h0M481.7 188.5h0M481.9 192.3h0M482.0 177.1h0M482.1 313.5h0M482.3 178.2h0M482.4 176.5h0M482.5 173.2h0M482.8 178.1h0M482.9 239.2h0M483.0 291.9h0M483.2 349.3h0M483.3 208.8h0M483.4 267.1h0M483.6 184.3h0M483.7 362.6h0M483.9 190.1h0M484.0 174.8h0M484.2 174.2h0M484.3 174.1h0M484.4 252.9h0M484.6 174.9h0M484.7 359.7h0M484.8 165.5h0M485.0 302.9h0M485.1 222.0h0M485.3 169.1h0M485.4 174.1h0M485.6 193.9h0M485.7 282.2h0M485.8 182.8h0M486.0 303.8h0M486.1 286.7h0M486.2 190.6h0M486.4 215.5h0M486.6 233.3h0M486.7 245.7h0M486.9 179.1h0M487.0 255.1h0M487.1 278.1h0M487.3 237.8h0M487.5 179.2h0M487.6 331.8h0M487.7 226.7h0M487.8 260.4h0M488.0 181.9h0M488.2 309.8h0M488.3 253.4h0M488.5 379.6h0M488.6 185.9h0M488.7 348.6h0M488.9 277.1h0M488.9 351.8h0M489.0 349.9h0M489.1 307.4h0M489.3 385.3h0M489.4 365.5h0M489.7 305.6h0M489.7 369.6h0M489.9 368.4h0M490.0 324.9h0M490.2 379.2h0M490.3 360.1h0M490.5 362.3h0M490.6 331.7h0M490.8 384.4h0M490.9 388.3h0M491.0 307.7h0M491.2 313.0h0M491.4 323.0h0M491.5 342.8h0M491.7 378.7h0M491.8 301.9h0M491.9 310.6h0M492.0 387.7h0M492.2 358.6h0M492.4 334.7h0M492.4 375.7h0M492.6 354.1h0M492.7 382.6h0M492.9 314.3h0M493.1 326.8h0M493.1 323.7h0M493.3 375.0h0M493.5 371.6h0M493.6 379.9h0M493.8 322.3h0M493.9 346.3h0M494.0 360.3h0M494.2 373.0h0M494.3 322.1h0M494.4 377.5h0M494.6 354.5h0M494.8 345.3h0M494.9 340.2h0M495.1 339.9h0M495.1 355.1h0M495.3 379.1h0M495.5 340.2h0M495.6 361.5h0M495.8 368.3h0M495.9 378.9h0M496.0 384.7h0M496.1 371.5h0M496.3 382.8h0M496.5 360.2h0M496.6 381.8h0M496.8 391.2h0M496.9 361.2h0M497.0 386.5h0M497.1 371.8h0M497.3 385.6h0M497.4 368.4h0M497.5 384.6h0M497.7 390.5h0M497.8 364.5h0M497.9 387.7h0M498.1 387.3h0M498.2 376.3h0M498.4 390.4h0M498.5 385.4h0M498.6 370.2h0M498.8 378.9h0M498.9 372.4h0M499.1 380.7h0M499.2 365.1h0M499.4 369.0h0M499.5 385.3h0M499.6 370.2h0M499.8 383.4h0M499.9 377.9h0M500.1 368.0h0M500.2 370.6h0M500.4 374.8h0M500.5 384.1h0M500.7 366.6h0M500.8 363.0h0M500.9 390.1h0M501.1 362.8h0M501.2 385.8h0M501.3 373.5h0M501.5 369.7h0M501.7 367.5h0M501.8 361.7h0M501.9 375.3h0M502.0 385.9h0M502.3 377.8h0M502.3 385.4h0M502.5 382.5h0M502.6 364.2h0M502.8 363.1h0M502.9 391.0h0M503.1 383.9h0M503.3 365.2h0M503.4 345.6h0M503.5 319.9h0M503.6 308.5h0M503.7 299.3h0M503.9 302.7h0M504.0 300.8h0M504.2 305.7h0M504.4 304.7h0M504.5 321.9h0M504.7 342.8h0M504.8 364.9h0M504.9 362.1h0M505.1 380.2h0M505.2 390.4h0M505.4 369.3h0M505.5 384.6h0M505.6 369.1h0M505.8 373.9h0M505.9 385.9h0M506.1 369.0h0M506.2 387.1h0M506.3 386.6h0M506.5 364.0h0M506.7 345.6h0M506.8 327.6h0M506.9 307.2h0M507.1 304.9h0M507.2 306.2h0M507.3 302.5h0M507.5 305.8h0M507.7 305.8h0M507.8 323.6h0M507.9 344.0h0M508.1 365.0h0M508.2 370.0h0M508.4 380.8h0M508.5 386.5h0M508.6 379.8h0M508.8 385.8h0M508.9 387.0h0M509.0 384.2h0M509.1 385.2h0M509.3 383.0h0M509.4 382.7h0M509.5 383.7h0M509.7 385.1h0M509.8 380.4h0M510.0 385.0h0M510.1 380.2h0M510.3 380.0h0M510.4 383.7h0M510.6 379.7h0M510.7 383.3h0M510.9 381.6h0M511.0 380.1h0M511.2 382.9h0M511.3 383.4h0M511.4 383.1h0M511.5 378.7h0M511.7 378.8h0M511.8 382.1h0M512.0 381.8h0M512.1 384.9h0M512.3 384.9h0M512.4 381.0h0M512.6 383.8h0M512.7 382.5h0M512.9 382.7h0M513.0 383.6h0M513.2 383.3h0M513.3 381.8h0M513.5 381.4h0M513.5 382.0h0M513.7 382.0h0M513.9 380.2h0M514.0 382.0h0M514.1 382.4h0M514.3 381.3h0M514.4 381.2h0M514.5 379.7h0M514.8 381.2h0M514.8 381.5h0M515.0 381.8h0M515.2 379.3h0M515.3 381.3h0M515.5 380.7h0M515.6 379.6h0M515.7 383.4h0M515.9 381.5h0M516.0 380.0h0M516.2 382.2h0M516.3 380.0h0M516.4 379.8h0M516.5 383.2h0M516.8 383.7h0M516.8 381.9h0M517.0 380.7h0M517.1 382.7h0M517.3 382.4h0M517.4 380.7h0M517.6 384.2h0M517.7 381.7h0M517.9 381.6h0M518.0 384.2h0M518.0 386.7h0M518.2 388.2h0M518.3 388.3h0M518.4 383.1h0M518.6 386.2h0M518.7 383.8h0M518.8 383.4h0M519.0 386.8h0M519.1 383.3h0M519.3 380.1h0M519.4 368.2h0M519.6 357.3h0M519.8 347.5h0M519.8 352.0h0M520.0 349.7h0M520.1 347.4h0M520.3 351.0h0M520.4 356.6h0M520.6 368.5h0M520.7 378.9h0M520.8 383.1h0M521.0 383.2h0M521.2 386.4h0M521.3 384.1h0M521.4 384.5h0M521.6 387.7h0M521.7 383.7h0M521.9 388.9h0M522.0 385.3h0M522.2 382.8h0M522.3 388.1h0M522.4 388.0h0M522.5 387.4h0M522.6 390.0h0M522.7 370.7h0M522.9 372.0h0M523.0 359.8h0M523.2 351.8h0M523.3 346.2h0M523.4 350.2h0M523.6 351.0h0M523.7 349.7h0M523.9 350.9h0M524.1 365.1h0M524.1 375.8h0M524.3 385.1h0M524.5 368.7h0M524.6 367.8h0M524.8 366.4h0M524.8 387.7h0M525.0 380.2h0M525.1 366.2h0M525.3 377.7h0M525.5 378.0h0M525.6 381.2h0M525.7 366.8h0M525.9 385.3h0M526.0 372.6h0M526.2 369.4h0M526.3 367.8h0M526.5 384.9h0M526.6 376.1h0M526.7 374.2h0M526.9 368.6h0M527.0 376.4h0M527.2 386.1h0M527.3 374.0h0M527.4 381.0h0M527.6 379.8h0M527.8 367.6h0M527.9 370.0h0M528.0 375.2h0M528.1 387.0h0M528.2 385.5h0M528.4 378.3h0M528.5 385.6h0M528.6 378.6h0M528.8 369.1h0M529.0 357.3h0M529.1 346.3h0M529.2 338.9h0M529.3 341.7h0M529.5 342.9h0M529.7 341.2h0M529.8 342.9h0M529.9 348.2h0M530.1 355.0h0M530.2 364.6h0M530.3 375.7h0M530.5 380.5h0M530.6 375.7h0M530.8 370.7h0M530.9 378.5h0M531.0 378.8h0M531.1 379.3h0M531.3 373.9h0M531.4 374.9h0M531.6 374.8h0M531.7 381.8h0M531.9 377.0h0M532.0 375.6h0M532.2 380.2h0M532.3 374.5h0M532.5 375.1h0M532.6 380.7h0M532.7 372.0h0M532.9 371.3h0M533.1 380.9h0M533.2 375.6h0M533.4 372.0h0M533.4 379.4h0M533.6 377.2h0M551.7 389.9h0M551.9 387.7h0M552.0 385.9h0M552.1 390.8h0M552.2 388.2h0M552.4 386.1h0M552.6 384.8h0M552.7 387.2h0M552.9 385.1h0M553.0 376.2h0M553.1 369.3h0M553.3 377.3h0M553.4 371.6h0M553.5 381.7h0M553.7 382.8h0M553.9 355.1h0M554.0 367.6h0M554.2 369.2h0M554.3 382.9h0M554.4 359.5h0M554.6 380.9h0M554.7 378.8h0M554.9 356.4h0M555.0 358.0h0M555.2 382.6h0M555.3 357.3h0M555.5 376.7h0M555.6 381.1h0M555.7 357.1h0M555.9 380.0h0M556.0 362.7h0M556.1 376.7h0M556.2 374.3h0M556.4 368.5h0M556.5 381.0h0M556.7 366.6h0M556.8 368.2h0M557.0 358.3h0M557.2 366.2h0M557.3 385.0h0M557.4 367.6h0M557.5 374.5h0M557.7 360.7h0M557.9 375.1h0M558.0 361.6h0M558.1 377.6h0M558.2 380.6h0M558.4 382.3h0M558.5 377.0h0M558.7 378.7h0M558.8 388.4h0M559.0 382.9h0M559.1 390.6h0M559.3 383.6h0M559.4 391.6h0M559.6 391.2h0M565.2 390.7h0M565.4 390.2h0M565.4 389.6h0M565.7 390.8h0M565.8 387.7h0M566.0 389.7h0M566.1 390.4h0M566.2 390.1h0M566.4 385.1h0M566.5 386.4h0M566.6 384.7h0M566.8 381.1h0M566.9 380.4h0M567.1 379.7h0M567.2 382.8h0M567.3 378.2h0M567.5 372.1h0M567.7 380.8h0M567.8 383.5h0M567.9 371.2h0M568.1 385.9h0M568.2 385.8h0M568.3 377.6h0M568.5 379.0h0M568.6 382.1h0M568.8 380.9h0M569.0 383.0h0M569.1 389.0h0M569.2 385.7h0M569.4 389.2h0M569.5 391.3h0M569.6 387.8h0M569.8 390.2h0M600.6 379.3h0M600.8 382.2h0M600.9 380.0h0M601.1 387.1h0M601.1 387.4h0M601.3 386.0h0M601.4 384.2h0M601.6 384.5h0M601.8 384.1h0M601.9 385.8h0M602.0 385.4h0M602.2 379.9h0M602.3 380.4h0M602.5 383.5h0M602.6 379.4h0M602.8 383.2h0M602.9 378.2h0M609.6 375.0h0" stroke="#ff0000" stroke-width="3.45" stroke-linecap="round" fill="none"/>
<g stroke="#111" stroke-width="1.25" fill="none">
<rect x="76.1" y="19.45" width="720.15" height="375.0"/>
<path d="M101.82 394.45V388.65M127.54 394.45V382.95M153.26 394.45V388.65M178.98 394.45V388.65M204.70 394.45V388.65M230.42 394.45V382.95M256.14 394.45V388.65M281.86 394.45V388.65M307.58 394.45V388.65M333.30 394.45V382.95M359.02 394.45V388.65M384.74 394.45V388.65M410.46 394.45V388.65M436.17 394.45V382.95M461.89 394.45V388.65M487.61 394.45V388.65M513.33 394.45V388.65M539.05 394.45V382.95M564.77 394.45V388.65M590.49 394.45V388.65M616.21 394.45V388.65M641.93 394.45V382.95M667.65 394.45V388.65M693.37 394.45V388.65M719.09 394.45V388.65M744.81 394.45V382.95M770.53 394.45V388.65M76.1 381.06H86.90M76.1 367.66H86.90M76.1 354.27H86.90M76.1 340.88H97.60M76.1 327.49H86.90M76.1 314.09H86.90M76.1 300.70H86.90M76.1 287.31H97.60M76.1 273.91H86.90M76.1 260.52H86.90M76.1 247.13H86.90M76.1 233.74H97.60M76.1 220.34H86.90M76.1 206.95H86.90M76.1 193.56H86.90M76.1 180.16H97.60M76.1 166.77H86.90M76.1 153.38H86.90M76.1 139.99H86.90M76.1 126.59H97.60M76.1 113.20H86.90M76.1 99.81H86.90M76.1 86.41H86.90M76.1 73.02H97.60M76.1 59.63H86.90M76.1 46.24H86.90M76.1 32.84H86.90"/>
</g>
<defs><filter id="idf" x="0" y="0" width="800" height="434" filterUnits="userSpaceOnUse" color-interpolation-filters="sRGB"><feOffset dx="0" dy="0"/></filter></defs>
<g filter="url(#idf)" font-family="Liberation Sans, sans-serif" font-weight="bold" font-size="16px" fill="#000">
<text transform="translate(126.89 411.10) scale(1.015 1.05)" text-anchor="middle">06:00</text>
<text transform="translate(229.77 411.10) scale(1.015 1.05)" text-anchor="middle">08:00</text>
<g transform="translate(333.25 411.10) scale(1.015 1.05)"><text x="-11.560 -2.664 2.664 11.560" y="0">0:00</text><path transform="translate(-20.456 0) scale(0.0078125)" d="M806 0H525V-1059Q371 -915 162 -846V-1101Q272 -1137 401 -1237.5Q530 -1338 578 -1472H806Z"/></g>
<g transform="translate(436.12 411.10) scale(1.015 1.05)"><text x="-11.560 -2.664 2.664 11.560" y="0">2:00</text><path transform="translate(-20.456 0) scale(0.0078125)" d="M806 0H525V-1059Q371 -915 162 -846V-1101Q272 -1137 401 -1237.5Q530 -1338 578 -1472H806Z"/></g>
<g transform="translate(539.00 411.10) scale(1.015 1.05)"><text x="-11.560 -2.664 2.664 11.560" y="0">4:00</text><path transform="translate(-20.456 0) scale(0.0078125)" d="M806 0H525V-1059Q371 -915 162 -846V-1101Q272 -1137 401 -1237.5Q530 -1338 578 -1472H806Z"/></g>
<g transform="translate(641.88 411.10) scale(1.015 1.05)"><text x="-11.560 -2.664 2.664 11.560" y="0">6:00</text><path transform="translate(-20.456 0) scale(0.0078125)" d="M806 0H525V-1059Q371 -915 162 -846V-1101Q272 -1137 401 -1237.5Q530 -1338 578 -1472H806Z"/></g>
<g transform="translate(744.76 411.10) scale(1.015 1.05)"><text x="-11.560 -2.664 2.664 11.560" y="0">8:00</text><path transform="translate(-20.456 0) scale(0.0078125)" d="M806 0H525V-1059Q371 -915 162 -846V-1101Q272 -1137 401 -1237.5Q530 -1338 578 -1472H806Z"/></g>
<text transform="translate(71.30 401.35) scale(1.015 1.05)" text-anchor="end">0</text>
<text transform="translate(71.30 347.78) scale(1.015 1.05)" text-anchor="end">0.2</text>
<text transform="translate(71.30 294.21) scale(1.015 1.05)" text-anchor="end">0.4</text>
<text transform="translate(71.30 240.64) scale(1.015 1.05)" text-anchor="end">0.6</text>
<text transform="translate(71.30 187.06) scale(1.015 1.05)" text-anchor="end">0.8</text>
<g transform="translate(72.70 134.39) scale(1.015 1.05)"><path transform="translate(-8.896 0) scale(0.0078125)" d="M806 0H525V-1059Q371 -915 162 -846V-1101Q272 -1137 401 -1237.5Q530 -1338 578 -1472H806Z"/></g>
<g transform="translate(71.30 79.92) scale(1.015 1.05)"><text x="-13.344 -8.896" y="0">.2</text><path transform="translate(-22.240 0) scale(0.0078125)" d="M806 0H525V-1059Q371 -915 162 -846V-1101Q272 -1137 401 -1237.5Q530 -1338 578 -1472H806Z"/></g>
<g transform="translate(71.30 27.05) scale(1.015 1.05)"><text x="-13.344 -8.896" y="0">.4</text><path transform="translate(-22.240 0) scale(0.0078125)" d="M806 0H525V-1059Q371 -915 162 -846V-1101Q272 -1137 401 -1237.5Q530 -1338 578 -1472H806Z"/></g>
<text transform="translate(398.80 427.90) scale(1.015 1.05)" text-anchor="start">Time (JST)</text>
<g transform="translate(796.80 427.90) scale(1.015 1.05)"><text x="-81.824 -72.928 -64.032 -55.136 -46.240 -40.912 -23.120 -17.792 -8.896" y="0">2008-0-20</text><path transform="translate(-32.016 0) scale(0.0078125)" d="M806 0H525V-1059Q371 -915 162 -846V-1101Q272 -1137 401 -1237.5Q530 -1338 578 -1472H806Z"/></g>
<text transform="translate(15.20 131.10) rotate(-90) scale(1.036 1.05)" text-anchor="start">Intensity (a.u.)</text>
<rect x="177.00" y="10.9" width="14.8" height="1.9" fill="#0000ff"/>
<text transform="translate(198.30 15.40) scale(1.015 1.05)" text-anchor="start" fill="#0000ff">368nm</text>
<rect x="321.00" y="10.9" width="14.8" height="1.9" fill="#00ff00"/>
<text transform="translate(342.30 15.40) scale(1.015 1.05)" text-anchor="start" fill="#00ff00">500nm</text>
<rect x="465.00" y="10.9" width="14.8" height="1.9" fill="#ff00ff"/>
<text transform="translate(486.30 15.40) scale(1.015 1.05)" text-anchor="start" fill="#ff00ff">675nm</text>
<rect x="609.00" y="10.9" width="14.8" height="1.9" fill="#ff0000"/>
<text transform="translate(630.30 15.40) scale(1.015 1.05)" text-anchor="start" fill="#ff0000">778nm</text>
</g>

</svg>
</body></html>
